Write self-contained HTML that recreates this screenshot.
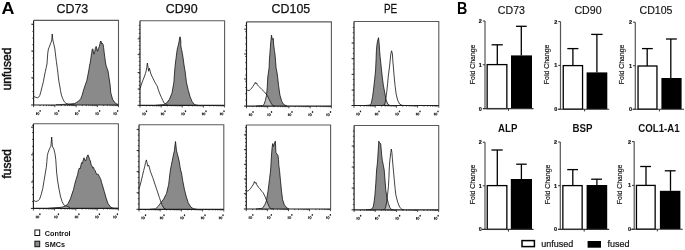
<!DOCTYPE html>
<html><head><meta charset="utf-8"><title>Figure</title>
<style>
html,body{margin:0;padding:0;background:#fff;}
body{width:685px;height:250px;overflow:hidden;}
svg{display:block;font-family:"Liberation Sans",sans-serif;filter:grayscale(1);}
</style></head>
<body>
<svg width="685" height="250" viewBox="0 0 685 250">
<rect width="685" height="250" fill="#fff"/>
<polygon points="56.0,105.0 56.0,104.8 64.0,104.4 70.0,104.0 74.4,103.6 76.6,102.4 78.9,100.9 80.8,98.6 82.0,95.6 83.1,91.8 84.2,88.0 86.9,80.3 88.7,71.0 89.7,65.0 90.4,62.0 91.0,57.2 91.6,53.6 92.2,49.4 92.8,48.8 93.4,51.8 94.0,54.2 94.6,52.4 95.4,48.2 96.2,46.4 97.0,50.0 97.6,51.2 98.2,48.8 99.4,46.4 100.0,43.4 100.6,41.0 101.2,41.6 101.8,44.0 102.4,43.4 103.0,44.0 103.6,47.6 104.2,52.4 104.8,57.2 105.4,62.0 106.2,66.0 108.0,71.0 110.0,84.0 110.8,93.0 112.7,99.6 115.4,103.3 118.2,104.6 118.2,105.0" fill="#8a8a8a" stroke="none"/>
<polygon points="33.8,105.0 33.8,96.6 35.6,97.2 37.4,97.8 38.6,97.2 39.8,95.4 41.0,91.2 42.2,86.4 43.4,81.6 44.4,76.0 45.4,71.2 46.2,67.6 47.0,64.0 47.4,58.0 47.8,53.0 48.4,49.0 49.2,47.2 50.0,45.0 51.0,42.5 51.8,40.0 52.2,34.0 52.8,40.0 53.5,43.0 54.5,47.0 55.0,50.0 55.3,53.0 55.8,57.0 56.4,61.6 57.4,68.8 57.8,72.0 58.2,76.0 59.0,82.0 59.6,85.0 60.5,90.5 61.4,95.1 62.8,98.8 64.2,101.6 66.0,103.4 68.3,104.3 71.6,104.5 74.0,104.8 74.0,105.0" fill="#fff" fill-opacity="0.42" stroke="none"/>
<polyline points="56.0,104.8 64.0,104.4 70.0,104.0 74.4,103.6 76.6,102.4 78.9,100.9 80.8,98.6 82.0,95.6 83.1,91.8 84.2,88.0 86.9,80.3 88.7,71.0 89.7,65.0 90.4,62.0 91.0,57.2 91.6,53.6 92.2,49.4 92.8,48.8 93.4,51.8 94.0,54.2 94.6,52.4 95.4,48.2 96.2,46.4 97.0,50.0 97.6,51.2 98.2,48.8 99.4,46.4 100.0,43.4 100.6,41.0 101.2,41.6 101.8,44.0 102.4,43.4 103.0,44.0 103.6,47.6 104.2,52.4 104.8,57.2 105.4,62.0 106.2,66.0 108.0,71.0 110.0,84.0 110.8,93.0 112.7,99.6 115.4,103.3 118.2,104.6" fill="none" stroke="#111" stroke-width="0.8" stroke-linejoin="round"/>
<polyline points="33.8,96.6 35.6,97.2 37.4,97.8 38.6,97.2 39.8,95.4 41.0,91.2 42.2,86.4 43.4,81.6 44.4,76.0 45.4,71.2 46.2,67.6 47.0,64.0 47.4,58.0 47.8,53.0 48.4,49.0 49.2,47.2 50.0,45.0 51.0,42.5 51.8,40.0 52.2,34.0 52.8,40.0 53.5,43.0 54.5,47.0 55.0,50.0 55.3,53.0 55.8,57.0 56.4,61.6 57.4,68.8 57.8,72.0 58.2,76.0 59.0,82.0 59.6,85.0 60.5,90.5 61.4,95.1 62.8,98.8 64.2,101.6 66.0,103.4 68.3,104.3 71.6,104.5 74.0,104.8" fill="none" stroke="#111" stroke-width="0.8" stroke-linejoin="round"/>
<path d="M33.6,20.4 H118.5 V105.0" fill="none" stroke="#5a5a5a" stroke-width="1.1"/>
<path d="M33.6,20.4 V105.0 H118.5" fill="none" stroke="#1e1e1e" stroke-width="1.15"/>
<line x1="32.4" y1="24.6" x2="33.6" y2="24.6" stroke="#222" stroke-width="0.9"/>
<line x1="32.4" y1="31.3" x2="33.6" y2="31.3" stroke="#222" stroke-width="0.9"/>
<line x1="32.4" y1="38.0" x2="33.6" y2="38.0" stroke="#222" stroke-width="0.9"/>
<line x1="32.4" y1="44.7" x2="33.6" y2="44.7" stroke="#222" stroke-width="0.9"/>
<line x1="32.4" y1="51.4" x2="33.6" y2="51.4" stroke="#222" stroke-width="0.9"/>
<line x1="32.4" y1="58.1" x2="33.6" y2="58.1" stroke="#222" stroke-width="0.9"/>
<line x1="32.4" y1="64.8" x2="33.6" y2="64.8" stroke="#222" stroke-width="0.9"/>
<line x1="32.4" y1="71.5" x2="33.6" y2="71.5" stroke="#222" stroke-width="0.9"/>
<line x1="32.4" y1="78.2" x2="33.6" y2="78.2" stroke="#222" stroke-width="0.9"/>
<line x1="32.4" y1="84.9" x2="33.6" y2="84.9" stroke="#222" stroke-width="0.9"/>
<line x1="32.4" y1="91.6" x2="33.6" y2="91.6" stroke="#222" stroke-width="0.9"/>
<line x1="32.4" y1="98.3" x2="33.6" y2="98.3" stroke="#222" stroke-width="0.9"/>
<line x1="31.2" y1="24.2" x2="33.6" y2="24.2" stroke="#222" stroke-width="0.9"/>
<line x1="31.2" y1="51.0" x2="33.6" y2="51.0" stroke="#222" stroke-width="0.9"/>
<line x1="31.2" y1="77.8" x2="33.6" y2="77.8" stroke="#222" stroke-width="0.9"/>
<line x1="33.6" y1="105.0" x2="33.6" y2="107.2" stroke="#222" stroke-width="0.8"/>
<line x1="40.0" y1="105.0" x2="40.0" y2="106.1" stroke="#222" stroke-width="0.8"/>
<line x1="43.7" y1="105.0" x2="43.7" y2="106.1" stroke="#222" stroke-width="0.8"/>
<line x1="46.4" y1="105.0" x2="46.4" y2="106.1" stroke="#222" stroke-width="0.8"/>
<line x1="48.4" y1="105.0" x2="48.4" y2="106.1" stroke="#222" stroke-width="0.8"/>
<line x1="50.1" y1="105.0" x2="50.1" y2="106.1" stroke="#222" stroke-width="0.8"/>
<line x1="51.5" y1="105.0" x2="51.5" y2="106.1" stroke="#222" stroke-width="0.8"/>
<line x1="52.8" y1="105.0" x2="52.8" y2="106.1" stroke="#222" stroke-width="0.8"/>
<line x1="53.9" y1="105.0" x2="53.9" y2="106.1" stroke="#222" stroke-width="0.8"/>
<line x1="54.8" y1="105.0" x2="54.8" y2="107.2" stroke="#222" stroke-width="0.8"/>
<line x1="61.2" y1="105.0" x2="61.2" y2="106.1" stroke="#222" stroke-width="0.8"/>
<line x1="65.0" y1="105.0" x2="65.0" y2="106.1" stroke="#222" stroke-width="0.8"/>
<line x1="67.6" y1="105.0" x2="67.6" y2="106.1" stroke="#222" stroke-width="0.8"/>
<line x1="69.7" y1="105.0" x2="69.7" y2="106.1" stroke="#222" stroke-width="0.8"/>
<line x1="71.3" y1="105.0" x2="71.3" y2="106.1" stroke="#222" stroke-width="0.8"/>
<line x1="72.8" y1="105.0" x2="72.8" y2="106.1" stroke="#222" stroke-width="0.8"/>
<line x1="74.0" y1="105.0" x2="74.0" y2="106.1" stroke="#222" stroke-width="0.8"/>
<line x1="75.1" y1="105.0" x2="75.1" y2="106.1" stroke="#222" stroke-width="0.8"/>
<line x1="76.1" y1="105.0" x2="76.1" y2="107.2" stroke="#222" stroke-width="0.8"/>
<line x1="82.4" y1="105.0" x2="82.4" y2="106.1" stroke="#222" stroke-width="0.8"/>
<line x1="86.2" y1="105.0" x2="86.2" y2="106.1" stroke="#222" stroke-width="0.8"/>
<line x1="88.8" y1="105.0" x2="88.8" y2="106.1" stroke="#222" stroke-width="0.8"/>
<line x1="90.9" y1="105.0" x2="90.9" y2="106.1" stroke="#222" stroke-width="0.8"/>
<line x1="92.6" y1="105.0" x2="92.6" y2="106.1" stroke="#222" stroke-width="0.8"/>
<line x1="94.0" y1="105.0" x2="94.0" y2="106.1" stroke="#222" stroke-width="0.8"/>
<line x1="95.2" y1="105.0" x2="95.2" y2="106.1" stroke="#222" stroke-width="0.8"/>
<line x1="96.3" y1="105.0" x2="96.3" y2="106.1" stroke="#222" stroke-width="0.8"/>
<line x1="97.3" y1="105.0" x2="97.3" y2="107.2" stroke="#222" stroke-width="0.8"/>
<line x1="103.7" y1="105.0" x2="103.7" y2="106.1" stroke="#222" stroke-width="0.8"/>
<line x1="107.4" y1="105.0" x2="107.4" y2="106.1" stroke="#222" stroke-width="0.8"/>
<line x1="110.1" y1="105.0" x2="110.1" y2="106.1" stroke="#222" stroke-width="0.8"/>
<line x1="112.1" y1="105.0" x2="112.1" y2="106.1" stroke="#222" stroke-width="0.8"/>
<line x1="113.8" y1="105.0" x2="113.8" y2="106.1" stroke="#222" stroke-width="0.8"/>
<line x1="115.2" y1="105.0" x2="115.2" y2="106.1" stroke="#222" stroke-width="0.8"/>
<line x1="116.4" y1="105.0" x2="116.4" y2="106.1" stroke="#222" stroke-width="0.8"/>
<line x1="117.5" y1="105.0" x2="117.5" y2="106.1" stroke="#222" stroke-width="0.8"/>
<line x1="118.5" y1="105.0" x2="118.5" y2="107.2" stroke="#222" stroke-width="0.8"/>
<line x1="31.1" y1="105.0" x2="33.6" y2="105.0" stroke="#222" stroke-width="1"/>
<line x1="36.5" y1="112.3" x2="36.5" y2="114.9" stroke="#1a1a1a" stroke-width="0.9"/>
<ellipse cx="38.3" cy="113.6" rx="0.8" ry="1.15" fill="none" stroke="#1a1a1a" stroke-width="0.8"/>
<ellipse cx="40.1" cy="110.9" rx="0.75" ry="0.95" fill="#222"/>
<line x1="55.0" y1="112.3" x2="55.0" y2="114.9" stroke="#1a1a1a" stroke-width="0.9"/>
<ellipse cx="56.8" cy="113.6" rx="0.8" ry="1.15" fill="none" stroke="#1a1a1a" stroke-width="0.8"/>
<ellipse cx="58.6" cy="110.9" rx="0.75" ry="0.95" fill="#222"/>
<line x1="75.5" y1="112.3" x2="75.5" y2="114.9" stroke="#1a1a1a" stroke-width="0.9"/>
<ellipse cx="77.3" cy="113.6" rx="0.8" ry="1.15" fill="none" stroke="#1a1a1a" stroke-width="0.8"/>
<ellipse cx="79.1" cy="110.9" rx="0.75" ry="0.95" fill="#222"/>
<line x1="96.0" y1="112.3" x2="96.0" y2="114.9" stroke="#1a1a1a" stroke-width="0.9"/>
<ellipse cx="97.8" cy="113.6" rx="0.8" ry="1.15" fill="none" stroke="#1a1a1a" stroke-width="0.8"/>
<ellipse cx="99.6" cy="110.9" rx="0.75" ry="0.95" fill="#222"/>
<line x1="114.0" y1="112.3" x2="114.0" y2="114.9" stroke="#1a1a1a" stroke-width="0.9"/>
<ellipse cx="115.8" cy="113.6" rx="0.8" ry="1.15" fill="none" stroke="#1a1a1a" stroke-width="0.8"/>
<ellipse cx="117.6" cy="110.9" rx="0.75" ry="0.95" fill="#222"/>
<polygon points="156.0,105.3 156.0,105.3 160.0,105.0 163.8,104.6 166.5,103.1 169.3,99.6 172.0,93.1 173.9,82.1 174.6,72.0 175.2,65.0 176.0,58.6 176.8,52.2 177.6,47.4 178.4,45.0 179.2,41.0 179.6,37.5 180.2,36.8 180.8,41.0 180.8,45.8 181.6,49.8 182.4,53.8 183.2,58.6 184.0,65.0 185.2,72.0 186.4,82.1 188.3,90.4 190.1,96.8 192.0,101.4 194.7,104.8 198.0,105.3 198.0,105.3" fill="#8a8a8a" stroke="none"/>
<polygon points="140.0,105.3 140.0,88.5 140.4,88.0 141.0,85.6 142.2,82.0 143.4,79.0 144.6,76.0 145.4,73.6 146.4,70.0 147.4,63.0 148.0,67.0 148.6,71.2 149.4,68.2 150.6,73.0 151.8,76.0 153.0,78.4 154.2,80.8 155.0,82.5 156.3,84.6 157.3,86.2 158.3,89.8 159.9,94.0 161.5,97.6 163.0,100.8 164.0,102.8 165.1,103.9 166.5,104.8 168.0,105.3 168.0,105.3" fill="#fff" fill-opacity="0.42" stroke="none"/>
<polyline points="156.0,105.3 160.0,105.0 163.8,104.6 166.5,103.1 169.3,99.6 172.0,93.1 173.9,82.1 174.6,72.0 175.2,65.0 176.0,58.6 176.8,52.2 177.6,47.4 178.4,45.0 179.2,41.0 179.6,37.5 180.2,36.8 180.8,41.0 180.8,45.8 181.6,49.8 182.4,53.8 183.2,58.6 184.0,65.0 185.2,72.0 186.4,82.1 188.3,90.4 190.1,96.8 192.0,101.4 194.7,104.8 198.0,105.3" fill="none" stroke="#111" stroke-width="0.8" stroke-linejoin="round"/>
<polyline points="140.0,88.5 140.4,88.0 141.0,85.6 142.2,82.0 143.4,79.0 144.6,76.0 145.4,73.6 146.4,70.0 147.4,63.0 148.0,67.0 148.6,71.2 149.4,68.2 150.6,73.0 151.8,76.0 153.0,78.4 154.2,80.8 155.0,82.5 156.3,84.6 157.3,86.2 158.3,89.8 159.9,94.0 161.5,97.6 163.0,100.8 164.0,102.8 165.1,103.9 166.5,104.8 168.0,105.3" fill="none" stroke="#111" stroke-width="0.8" stroke-linejoin="round"/>
<path d="M140.0,20.8 H224.6 V105.3" fill="none" stroke="#5a5a5a" stroke-width="1.1"/>
<path d="M140.0,20.8 V105.3 H224.6" fill="none" stroke="#1e1e1e" stroke-width="1.15"/>
<line x1="138.8" y1="25.3" x2="140.0" y2="25.3" stroke="#222" stroke-width="0.9"/>
<line x1="138.8" y1="29.3" x2="140.0" y2="29.3" stroke="#222" stroke-width="0.9"/>
<line x1="138.8" y1="33.3" x2="140.0" y2="33.3" stroke="#222" stroke-width="0.9"/>
<line x1="138.8" y1="37.3" x2="140.0" y2="37.3" stroke="#222" stroke-width="0.9"/>
<line x1="138.8" y1="41.3" x2="140.0" y2="41.3" stroke="#222" stroke-width="0.9"/>
<line x1="138.8" y1="45.3" x2="140.0" y2="45.3" stroke="#222" stroke-width="0.9"/>
<line x1="138.8" y1="49.3" x2="140.0" y2="49.3" stroke="#222" stroke-width="0.9"/>
<line x1="138.8" y1="53.3" x2="140.0" y2="53.3" stroke="#222" stroke-width="0.9"/>
<line x1="138.8" y1="57.3" x2="140.0" y2="57.3" stroke="#222" stroke-width="0.9"/>
<line x1="138.8" y1="61.3" x2="140.0" y2="61.3" stroke="#222" stroke-width="0.9"/>
<line x1="138.8" y1="65.3" x2="140.0" y2="65.3" stroke="#222" stroke-width="0.9"/>
<line x1="138.8" y1="69.3" x2="140.0" y2="69.3" stroke="#222" stroke-width="0.9"/>
<line x1="138.8" y1="73.3" x2="140.0" y2="73.3" stroke="#222" stroke-width="0.9"/>
<line x1="138.8" y1="77.3" x2="140.0" y2="77.3" stroke="#222" stroke-width="0.9"/>
<line x1="138.8" y1="81.3" x2="140.0" y2="81.3" stroke="#222" stroke-width="0.9"/>
<line x1="138.8" y1="85.3" x2="140.0" y2="85.3" stroke="#222" stroke-width="0.9"/>
<line x1="138.8" y1="89.3" x2="140.0" y2="89.3" stroke="#222" stroke-width="0.9"/>
<line x1="138.8" y1="93.3" x2="140.0" y2="93.3" stroke="#222" stroke-width="0.9"/>
<line x1="138.8" y1="97.3" x2="140.0" y2="97.3" stroke="#222" stroke-width="0.9"/>
<line x1="138.8" y1="101.3" x2="140.0" y2="101.3" stroke="#222" stroke-width="0.9"/>
<line x1="137.6" y1="38.8" x2="140.0" y2="38.8" stroke="#222" stroke-width="0.9"/>
<line x1="137.6" y1="54.6" x2="140.0" y2="54.6" stroke="#222" stroke-width="0.9"/>
<line x1="137.6" y1="72.5" x2="140.0" y2="72.5" stroke="#222" stroke-width="0.9"/>
<line x1="137.6" y1="89.0" x2="140.0" y2="89.0" stroke="#222" stroke-width="0.9"/>
<line x1="140.0" y1="105.3" x2="140.0" y2="107.5" stroke="#222" stroke-width="0.8"/>
<line x1="146.4" y1="105.3" x2="146.4" y2="106.4" stroke="#222" stroke-width="0.8"/>
<line x1="150.1" y1="105.3" x2="150.1" y2="106.4" stroke="#222" stroke-width="0.8"/>
<line x1="152.7" y1="105.3" x2="152.7" y2="106.4" stroke="#222" stroke-width="0.8"/>
<line x1="154.8" y1="105.3" x2="154.8" y2="106.4" stroke="#222" stroke-width="0.8"/>
<line x1="156.5" y1="105.3" x2="156.5" y2="106.4" stroke="#222" stroke-width="0.8"/>
<line x1="157.9" y1="105.3" x2="157.9" y2="106.4" stroke="#222" stroke-width="0.8"/>
<line x1="159.1" y1="105.3" x2="159.1" y2="106.4" stroke="#222" stroke-width="0.8"/>
<line x1="160.2" y1="105.3" x2="160.2" y2="106.4" stroke="#222" stroke-width="0.8"/>
<line x1="161.2" y1="105.3" x2="161.2" y2="107.5" stroke="#222" stroke-width="0.8"/>
<line x1="167.5" y1="105.3" x2="167.5" y2="106.4" stroke="#222" stroke-width="0.8"/>
<line x1="171.2" y1="105.3" x2="171.2" y2="106.4" stroke="#222" stroke-width="0.8"/>
<line x1="173.9" y1="105.3" x2="173.9" y2="106.4" stroke="#222" stroke-width="0.8"/>
<line x1="175.9" y1="105.3" x2="175.9" y2="106.4" stroke="#222" stroke-width="0.8"/>
<line x1="177.6" y1="105.3" x2="177.6" y2="106.4" stroke="#222" stroke-width="0.8"/>
<line x1="179.0" y1="105.3" x2="179.0" y2="106.4" stroke="#222" stroke-width="0.8"/>
<line x1="180.3" y1="105.3" x2="180.3" y2="106.4" stroke="#222" stroke-width="0.8"/>
<line x1="181.3" y1="105.3" x2="181.3" y2="106.4" stroke="#222" stroke-width="0.8"/>
<line x1="182.3" y1="105.3" x2="182.3" y2="107.5" stroke="#222" stroke-width="0.8"/>
<line x1="188.7" y1="105.3" x2="188.7" y2="106.4" stroke="#222" stroke-width="0.8"/>
<line x1="192.4" y1="105.3" x2="192.4" y2="106.4" stroke="#222" stroke-width="0.8"/>
<line x1="195.0" y1="105.3" x2="195.0" y2="106.4" stroke="#222" stroke-width="0.8"/>
<line x1="197.1" y1="105.3" x2="197.1" y2="106.4" stroke="#222" stroke-width="0.8"/>
<line x1="198.8" y1="105.3" x2="198.8" y2="106.4" stroke="#222" stroke-width="0.8"/>
<line x1="200.2" y1="105.3" x2="200.2" y2="106.4" stroke="#222" stroke-width="0.8"/>
<line x1="201.4" y1="105.3" x2="201.4" y2="106.4" stroke="#222" stroke-width="0.8"/>
<line x1="202.5" y1="105.3" x2="202.5" y2="106.4" stroke="#222" stroke-width="0.8"/>
<line x1="203.4" y1="105.3" x2="203.4" y2="107.5" stroke="#222" stroke-width="0.8"/>
<line x1="209.8" y1="105.3" x2="209.8" y2="106.4" stroke="#222" stroke-width="0.8"/>
<line x1="213.5" y1="105.3" x2="213.5" y2="106.4" stroke="#222" stroke-width="0.8"/>
<line x1="216.2" y1="105.3" x2="216.2" y2="106.4" stroke="#222" stroke-width="0.8"/>
<line x1="218.2" y1="105.3" x2="218.2" y2="106.4" stroke="#222" stroke-width="0.8"/>
<line x1="219.9" y1="105.3" x2="219.9" y2="106.4" stroke="#222" stroke-width="0.8"/>
<line x1="221.3" y1="105.3" x2="221.3" y2="106.4" stroke="#222" stroke-width="0.8"/>
<line x1="222.6" y1="105.3" x2="222.6" y2="106.4" stroke="#222" stroke-width="0.8"/>
<line x1="223.6" y1="105.3" x2="223.6" y2="106.4" stroke="#222" stroke-width="0.8"/>
<line x1="224.6" y1="105.3" x2="224.6" y2="107.5" stroke="#222" stroke-width="0.8"/>
<line x1="137.5" y1="105.3" x2="140.0" y2="105.3" stroke="#222" stroke-width="1"/>
<line x1="142.9" y1="112.6" x2="142.9" y2="115.2" stroke="#1a1a1a" stroke-width="0.9"/>
<ellipse cx="144.7" cy="113.9" rx="0.8" ry="1.15" fill="none" stroke="#1a1a1a" stroke-width="0.8"/>
<ellipse cx="146.5" cy="111.2" rx="0.75" ry="0.95" fill="#222"/>
<line x1="161.4" y1="112.6" x2="161.4" y2="115.2" stroke="#1a1a1a" stroke-width="0.9"/>
<ellipse cx="163.2" cy="113.9" rx="0.8" ry="1.15" fill="none" stroke="#1a1a1a" stroke-width="0.8"/>
<ellipse cx="165.0" cy="111.2" rx="0.75" ry="0.95" fill="#222"/>
<line x1="181.9" y1="112.6" x2="181.9" y2="115.2" stroke="#1a1a1a" stroke-width="0.9"/>
<ellipse cx="183.7" cy="113.9" rx="0.8" ry="1.15" fill="none" stroke="#1a1a1a" stroke-width="0.8"/>
<ellipse cx="185.5" cy="111.2" rx="0.75" ry="0.95" fill="#222"/>
<line x1="202.4" y1="112.6" x2="202.4" y2="115.2" stroke="#1a1a1a" stroke-width="0.9"/>
<ellipse cx="204.2" cy="113.9" rx="0.8" ry="1.15" fill="none" stroke="#1a1a1a" stroke-width="0.8"/>
<ellipse cx="206.0" cy="111.2" rx="0.75" ry="0.95" fill="#222"/>
<line x1="220.4" y1="112.6" x2="220.4" y2="115.2" stroke="#1a1a1a" stroke-width="0.9"/>
<ellipse cx="222.2" cy="113.9" rx="0.8" ry="1.15" fill="none" stroke="#1a1a1a" stroke-width="0.8"/>
<ellipse cx="224.0" cy="111.2" rx="0.75" ry="0.95" fill="#222"/>
<polygon points="256.0,106.1 256.0,106.1 262.5,105.6 264.0,104.6 265.3,100.6 266.5,95.5 267.2,87.8 267.8,77.0 268.5,72.0 269.1,68.0 269.4,60.0 269.9,53.6 270.4,47.2 270.9,40.8 271.5,35.2 272.3,39.5 273.3,38.4 273.6,44.0 274.4,50.4 274.9,53.6 275.5,60.0 276.1,68.0 276.9,72.0 277.5,76.0 278.6,85.8 279.9,95.0 281.8,101.4 283.6,104.4 287.0,106.1 287.0,106.1" fill="#8a8a8a" stroke="none"/>
<polygon points="246.5,106.1 246.5,90.0 247.2,90.1 249.1,90.7 250.4,89.5 251.7,88.2 253.0,86.3 254.3,84.3 255.3,82.4 255.9,83.7 256.6,83.0 257.5,85.0 259.4,86.9 261.9,89.5 264.5,92.0 267.1,95.2 269.0,99.1 270.9,102.9 272.8,105.6 274.5,106.1 274.5,106.1" fill="#fff" fill-opacity="0.42" stroke="none"/>
<polyline points="256.0,106.1 262.5,105.6 264.0,104.6 265.3,100.6 266.5,95.5 267.2,87.8 267.8,77.0 268.5,72.0 269.1,68.0 269.4,60.0 269.9,53.6 270.4,47.2 270.9,40.8 271.5,35.2 272.3,39.5 273.3,38.4 273.6,44.0 274.4,50.4 274.9,53.6 275.5,60.0 276.1,68.0 276.9,72.0 277.5,76.0 278.6,85.8 279.9,95.0 281.8,101.4 283.6,104.4 287.0,106.1" fill="none" stroke="#111" stroke-width="0.8" stroke-linejoin="round"/>
<polyline points="246.5,90.0 247.2,90.1 249.1,90.7 250.4,89.5 251.7,88.2 253.0,86.3 254.3,84.3 255.3,82.4 255.9,83.7 256.6,83.0 257.5,85.0 259.4,86.9 261.9,89.5 264.5,92.0 267.1,95.2 269.0,99.1 270.9,102.9 272.8,105.6 274.5,106.1" fill="none" stroke="#111" stroke-width="0.8" stroke-linejoin="round"/>
<path d="M246.5,21.9 H331.4 V106.1" fill="none" stroke="#5a5a5a" stroke-width="1.1"/>
<path d="M246.5,21.9 V106.1 H331.4" fill="none" stroke="#1e1e1e" stroke-width="1.15"/>
<line x1="245.3" y1="25.5" x2="246.5" y2="25.5" stroke="#222" stroke-width="0.9"/>
<line x1="245.3" y1="31.7" x2="246.5" y2="31.7" stroke="#222" stroke-width="0.9"/>
<line x1="245.3" y1="37.9" x2="246.5" y2="37.9" stroke="#222" stroke-width="0.9"/>
<line x1="245.3" y1="44.1" x2="246.5" y2="44.1" stroke="#222" stroke-width="0.9"/>
<line x1="245.3" y1="50.3" x2="246.5" y2="50.3" stroke="#222" stroke-width="0.9"/>
<line x1="245.3" y1="56.5" x2="246.5" y2="56.5" stroke="#222" stroke-width="0.9"/>
<line x1="245.3" y1="62.7" x2="246.5" y2="62.7" stroke="#222" stroke-width="0.9"/>
<line x1="245.3" y1="68.9" x2="246.5" y2="68.9" stroke="#222" stroke-width="0.9"/>
<line x1="245.3" y1="75.1" x2="246.5" y2="75.1" stroke="#222" stroke-width="0.9"/>
<line x1="245.3" y1="81.3" x2="246.5" y2="81.3" stroke="#222" stroke-width="0.9"/>
<line x1="245.3" y1="87.5" x2="246.5" y2="87.5" stroke="#222" stroke-width="0.9"/>
<line x1="245.3" y1="93.7" x2="246.5" y2="93.7" stroke="#222" stroke-width="0.9"/>
<line x1="245.3" y1="99.9" x2="246.5" y2="99.9" stroke="#222" stroke-width="0.9"/>
<line x1="244.1" y1="29.2" x2="246.5" y2="29.2" stroke="#222" stroke-width="0.9"/>
<line x1="244.1" y1="54.0" x2="246.5" y2="54.0" stroke="#222" stroke-width="0.9"/>
<line x1="244.1" y1="79.0" x2="246.5" y2="79.0" stroke="#222" stroke-width="0.9"/>
<line x1="246.5" y1="106.1" x2="246.5" y2="108.3" stroke="#222" stroke-width="0.8"/>
<line x1="252.9" y1="106.1" x2="252.9" y2="107.2" stroke="#222" stroke-width="0.8"/>
<line x1="256.6" y1="106.1" x2="256.6" y2="107.2" stroke="#222" stroke-width="0.8"/>
<line x1="259.3" y1="106.1" x2="259.3" y2="107.2" stroke="#222" stroke-width="0.8"/>
<line x1="261.3" y1="106.1" x2="261.3" y2="107.2" stroke="#222" stroke-width="0.8"/>
<line x1="263.0" y1="106.1" x2="263.0" y2="107.2" stroke="#222" stroke-width="0.8"/>
<line x1="264.4" y1="106.1" x2="264.4" y2="107.2" stroke="#222" stroke-width="0.8"/>
<line x1="265.7" y1="106.1" x2="265.7" y2="107.2" stroke="#222" stroke-width="0.8"/>
<line x1="266.8" y1="106.1" x2="266.8" y2="107.2" stroke="#222" stroke-width="0.8"/>
<line x1="267.7" y1="106.1" x2="267.7" y2="108.3" stroke="#222" stroke-width="0.8"/>
<line x1="274.1" y1="106.1" x2="274.1" y2="107.2" stroke="#222" stroke-width="0.8"/>
<line x1="277.9" y1="106.1" x2="277.9" y2="107.2" stroke="#222" stroke-width="0.8"/>
<line x1="280.5" y1="106.1" x2="280.5" y2="107.2" stroke="#222" stroke-width="0.8"/>
<line x1="282.6" y1="106.1" x2="282.6" y2="107.2" stroke="#222" stroke-width="0.8"/>
<line x1="284.2" y1="106.1" x2="284.2" y2="107.2" stroke="#222" stroke-width="0.8"/>
<line x1="285.7" y1="106.1" x2="285.7" y2="107.2" stroke="#222" stroke-width="0.8"/>
<line x1="286.9" y1="106.1" x2="286.9" y2="107.2" stroke="#222" stroke-width="0.8"/>
<line x1="288.0" y1="106.1" x2="288.0" y2="107.2" stroke="#222" stroke-width="0.8"/>
<line x1="288.9" y1="106.1" x2="288.9" y2="108.3" stroke="#222" stroke-width="0.8"/>
<line x1="295.3" y1="106.1" x2="295.3" y2="107.2" stroke="#222" stroke-width="0.8"/>
<line x1="299.1" y1="106.1" x2="299.1" y2="107.2" stroke="#222" stroke-width="0.8"/>
<line x1="301.7" y1="106.1" x2="301.7" y2="107.2" stroke="#222" stroke-width="0.8"/>
<line x1="303.8" y1="106.1" x2="303.8" y2="107.2" stroke="#222" stroke-width="0.8"/>
<line x1="305.5" y1="106.1" x2="305.5" y2="107.2" stroke="#222" stroke-width="0.8"/>
<line x1="306.9" y1="106.1" x2="306.9" y2="107.2" stroke="#222" stroke-width="0.8"/>
<line x1="308.1" y1="106.1" x2="308.1" y2="107.2" stroke="#222" stroke-width="0.8"/>
<line x1="309.2" y1="106.1" x2="309.2" y2="107.2" stroke="#222" stroke-width="0.8"/>
<line x1="310.2" y1="106.1" x2="310.2" y2="108.3" stroke="#222" stroke-width="0.8"/>
<line x1="316.6" y1="106.1" x2="316.6" y2="107.2" stroke="#222" stroke-width="0.8"/>
<line x1="320.3" y1="106.1" x2="320.3" y2="107.2" stroke="#222" stroke-width="0.8"/>
<line x1="323.0" y1="106.1" x2="323.0" y2="107.2" stroke="#222" stroke-width="0.8"/>
<line x1="325.0" y1="106.1" x2="325.0" y2="107.2" stroke="#222" stroke-width="0.8"/>
<line x1="326.7" y1="106.1" x2="326.7" y2="107.2" stroke="#222" stroke-width="0.8"/>
<line x1="328.1" y1="106.1" x2="328.1" y2="107.2" stroke="#222" stroke-width="0.8"/>
<line x1="329.3" y1="106.1" x2="329.3" y2="107.2" stroke="#222" stroke-width="0.8"/>
<line x1="330.4" y1="106.1" x2="330.4" y2="107.2" stroke="#222" stroke-width="0.8"/>
<line x1="331.4" y1="106.1" x2="331.4" y2="108.3" stroke="#222" stroke-width="0.8"/>
<line x1="244.0" y1="106.1" x2="246.5" y2="106.1" stroke="#222" stroke-width="1"/>
<line x1="249.4" y1="113.4" x2="249.4" y2="116.0" stroke="#1a1a1a" stroke-width="0.9"/>
<ellipse cx="251.2" cy="114.7" rx="0.8" ry="1.15" fill="none" stroke="#1a1a1a" stroke-width="0.8"/>
<ellipse cx="253.0" cy="112.0" rx="0.75" ry="0.95" fill="#222"/>
<line x1="267.9" y1="113.4" x2="267.9" y2="116.0" stroke="#1a1a1a" stroke-width="0.9"/>
<ellipse cx="269.7" cy="114.7" rx="0.8" ry="1.15" fill="none" stroke="#1a1a1a" stroke-width="0.8"/>
<ellipse cx="271.5" cy="112.0" rx="0.75" ry="0.95" fill="#222"/>
<line x1="288.4" y1="113.4" x2="288.4" y2="116.0" stroke="#1a1a1a" stroke-width="0.9"/>
<ellipse cx="290.2" cy="114.7" rx="0.8" ry="1.15" fill="none" stroke="#1a1a1a" stroke-width="0.8"/>
<ellipse cx="292.0" cy="112.0" rx="0.75" ry="0.95" fill="#222"/>
<line x1="308.9" y1="113.4" x2="308.9" y2="116.0" stroke="#1a1a1a" stroke-width="0.9"/>
<ellipse cx="310.7" cy="114.7" rx="0.8" ry="1.15" fill="none" stroke="#1a1a1a" stroke-width="0.8"/>
<ellipse cx="312.5" cy="112.0" rx="0.75" ry="0.95" fill="#222"/>
<line x1="326.9" y1="113.4" x2="326.9" y2="116.0" stroke="#1a1a1a" stroke-width="0.9"/>
<ellipse cx="328.7" cy="114.7" rx="0.8" ry="1.15" fill="none" stroke="#1a1a1a" stroke-width="0.8"/>
<ellipse cx="330.5" cy="112.0" rx="0.75" ry="0.95" fill="#222"/>
<polygon points="365.0,105.5 365.0,105.5 369.5,105.2 371.3,103.3 372.6,96.8 373.7,88.0 374.6,80.0 375.6,70.0 376.1,58.8 376.4,50.8 376.9,45.2 377.5,41.2 378.5,37.7 379.1,42.8 379.6,50.8 380.1,56.4 380.7,62.0 381.5,70.0 382.4,78.0 383.3,85.0 384.8,93.1 386.0,99.6 387.9,104.3 390.0,105.5 390.0,105.5" fill="#8a8a8a" stroke="none"/>
<polygon points="381.5,105.5 381.5,105.5 384.5,105.0 385.3,101.9 386.0,97.4 386.8,91.3 387.6,83.7 388.3,76.1 389.1,70.0 389.6,66.0 390.0,62.0 390.8,54.0 391.6,50.8 392.4,54.0 392.9,62.0 393.3,66.0 393.6,70.0 394.4,79.1 395.2,86.7 396.2,94.3 397.7,100.4 399.7,104.2 402.0,105.3 404.0,105.5 404.0,105.5" fill="#fff" fill-opacity="0.42" stroke="none"/>
<polyline points="365.0,105.5 369.5,105.2 371.3,103.3 372.6,96.8 373.7,88.0 374.6,80.0 375.6,70.0 376.1,58.8 376.4,50.8 376.9,45.2 377.5,41.2 378.5,37.7 379.1,42.8 379.6,50.8 380.1,56.4 380.7,62.0 381.5,70.0 382.4,78.0 383.3,85.0 384.8,93.1 386.0,99.6 387.9,104.3 390.0,105.5" fill="none" stroke="#111" stroke-width="0.8" stroke-linejoin="round"/>
<polyline points="381.5,105.5 384.5,105.0 385.3,101.9 386.0,97.4 386.8,91.3 387.6,83.7 388.3,76.1 389.1,70.0 389.6,66.0 390.0,62.0 390.8,54.0 391.6,50.8 392.4,54.0 392.9,62.0 393.3,66.0 393.6,70.0 394.4,79.1 395.2,86.7 396.2,94.3 397.7,100.4 399.7,104.2 402.0,105.3 404.0,105.5" fill="none" stroke="#111" stroke-width="0.8" stroke-linejoin="round"/>
<path d="M354.0,21.5 H438.8 V105.5" fill="none" stroke="#5a5a5a" stroke-width="1.1"/>
<path d="M354.0,21.5 V105.5 H438.8" fill="none" stroke="#1e1e1e" stroke-width="1.15"/>
<line x1="352.8" y1="27.5" x2="354.0" y2="27.5" stroke="#222" stroke-width="0.9"/>
<line x1="352.8" y1="32.7" x2="354.0" y2="32.7" stroke="#222" stroke-width="0.9"/>
<line x1="352.8" y1="37.9" x2="354.0" y2="37.9" stroke="#222" stroke-width="0.9"/>
<line x1="352.8" y1="43.1" x2="354.0" y2="43.1" stroke="#222" stroke-width="0.9"/>
<line x1="352.8" y1="48.3" x2="354.0" y2="48.3" stroke="#222" stroke-width="0.9"/>
<line x1="352.8" y1="53.5" x2="354.0" y2="53.5" stroke="#222" stroke-width="0.9"/>
<line x1="352.8" y1="58.7" x2="354.0" y2="58.7" stroke="#222" stroke-width="0.9"/>
<line x1="352.8" y1="63.9" x2="354.0" y2="63.9" stroke="#222" stroke-width="0.9"/>
<line x1="352.8" y1="69.1" x2="354.0" y2="69.1" stroke="#222" stroke-width="0.9"/>
<line x1="352.8" y1="74.3" x2="354.0" y2="74.3" stroke="#222" stroke-width="0.9"/>
<line x1="352.8" y1="79.5" x2="354.0" y2="79.5" stroke="#222" stroke-width="0.9"/>
<line x1="352.8" y1="84.7" x2="354.0" y2="84.7" stroke="#222" stroke-width="0.9"/>
<line x1="352.8" y1="89.9" x2="354.0" y2="89.9" stroke="#222" stroke-width="0.9"/>
<line x1="352.8" y1="95.1" x2="354.0" y2="95.1" stroke="#222" stroke-width="0.9"/>
<line x1="352.8" y1="100.3" x2="354.0" y2="100.3" stroke="#222" stroke-width="0.9"/>
<line x1="351.6" y1="43.0" x2="354.0" y2="43.0" stroke="#222" stroke-width="0.9"/>
<line x1="351.6" y1="58.7" x2="354.0" y2="58.7" stroke="#222" stroke-width="0.9"/>
<line x1="351.6" y1="74.4" x2="354.0" y2="74.4" stroke="#222" stroke-width="0.9"/>
<line x1="351.6" y1="90.1" x2="354.0" y2="90.1" stroke="#222" stroke-width="0.9"/>
<line x1="354.0" y1="105.5" x2="354.0" y2="107.7" stroke="#222" stroke-width="0.8"/>
<line x1="360.4" y1="105.5" x2="360.4" y2="106.6" stroke="#222" stroke-width="0.8"/>
<line x1="364.1" y1="105.5" x2="364.1" y2="106.6" stroke="#222" stroke-width="0.8"/>
<line x1="366.8" y1="105.5" x2="366.8" y2="106.6" stroke="#222" stroke-width="0.8"/>
<line x1="368.8" y1="105.5" x2="368.8" y2="106.6" stroke="#222" stroke-width="0.8"/>
<line x1="370.5" y1="105.5" x2="370.5" y2="106.6" stroke="#222" stroke-width="0.8"/>
<line x1="371.9" y1="105.5" x2="371.9" y2="106.6" stroke="#222" stroke-width="0.8"/>
<line x1="373.1" y1="105.5" x2="373.1" y2="106.6" stroke="#222" stroke-width="0.8"/>
<line x1="374.2" y1="105.5" x2="374.2" y2="106.6" stroke="#222" stroke-width="0.8"/>
<line x1="375.2" y1="105.5" x2="375.2" y2="107.7" stroke="#222" stroke-width="0.8"/>
<line x1="381.6" y1="105.5" x2="381.6" y2="106.6" stroke="#222" stroke-width="0.8"/>
<line x1="385.3" y1="105.5" x2="385.3" y2="106.6" stroke="#222" stroke-width="0.8"/>
<line x1="388.0" y1="105.5" x2="388.0" y2="106.6" stroke="#222" stroke-width="0.8"/>
<line x1="390.0" y1="105.5" x2="390.0" y2="106.6" stroke="#222" stroke-width="0.8"/>
<line x1="391.7" y1="105.5" x2="391.7" y2="106.6" stroke="#222" stroke-width="0.8"/>
<line x1="393.1" y1="105.5" x2="393.1" y2="106.6" stroke="#222" stroke-width="0.8"/>
<line x1="394.3" y1="105.5" x2="394.3" y2="106.6" stroke="#222" stroke-width="0.8"/>
<line x1="395.4" y1="105.5" x2="395.4" y2="106.6" stroke="#222" stroke-width="0.8"/>
<line x1="396.4" y1="105.5" x2="396.4" y2="107.7" stroke="#222" stroke-width="0.8"/>
<line x1="402.8" y1="105.5" x2="402.8" y2="106.6" stroke="#222" stroke-width="0.8"/>
<line x1="406.5" y1="105.5" x2="406.5" y2="106.6" stroke="#222" stroke-width="0.8"/>
<line x1="409.2" y1="105.5" x2="409.2" y2="106.6" stroke="#222" stroke-width="0.8"/>
<line x1="411.2" y1="105.5" x2="411.2" y2="106.6" stroke="#222" stroke-width="0.8"/>
<line x1="412.9" y1="105.5" x2="412.9" y2="106.6" stroke="#222" stroke-width="0.8"/>
<line x1="414.3" y1="105.5" x2="414.3" y2="106.6" stroke="#222" stroke-width="0.8"/>
<line x1="415.5" y1="105.5" x2="415.5" y2="106.6" stroke="#222" stroke-width="0.8"/>
<line x1="416.6" y1="105.5" x2="416.6" y2="106.6" stroke="#222" stroke-width="0.8"/>
<line x1="417.6" y1="105.5" x2="417.6" y2="107.7" stroke="#222" stroke-width="0.8"/>
<line x1="424.0" y1="105.5" x2="424.0" y2="106.6" stroke="#222" stroke-width="0.8"/>
<line x1="427.7" y1="105.5" x2="427.7" y2="106.6" stroke="#222" stroke-width="0.8"/>
<line x1="430.4" y1="105.5" x2="430.4" y2="106.6" stroke="#222" stroke-width="0.8"/>
<line x1="432.4" y1="105.5" x2="432.4" y2="106.6" stroke="#222" stroke-width="0.8"/>
<line x1="434.1" y1="105.5" x2="434.1" y2="106.6" stroke="#222" stroke-width="0.8"/>
<line x1="435.5" y1="105.5" x2="435.5" y2="106.6" stroke="#222" stroke-width="0.8"/>
<line x1="436.7" y1="105.5" x2="436.7" y2="106.6" stroke="#222" stroke-width="0.8"/>
<line x1="437.8" y1="105.5" x2="437.8" y2="106.6" stroke="#222" stroke-width="0.8"/>
<line x1="438.8" y1="105.5" x2="438.8" y2="107.7" stroke="#222" stroke-width="0.8"/>
<line x1="351.5" y1="105.5" x2="354.0" y2="105.5" stroke="#222" stroke-width="1"/>
<line x1="356.9" y1="112.8" x2="356.9" y2="115.4" stroke="#1a1a1a" stroke-width="0.9"/>
<ellipse cx="358.7" cy="114.1" rx="0.8" ry="1.15" fill="none" stroke="#1a1a1a" stroke-width="0.8"/>
<ellipse cx="360.5" cy="111.4" rx="0.75" ry="0.95" fill="#222"/>
<line x1="375.4" y1="112.8" x2="375.4" y2="115.4" stroke="#1a1a1a" stroke-width="0.9"/>
<ellipse cx="377.2" cy="114.1" rx="0.8" ry="1.15" fill="none" stroke="#1a1a1a" stroke-width="0.8"/>
<ellipse cx="379.0" cy="111.4" rx="0.75" ry="0.95" fill="#222"/>
<line x1="395.9" y1="112.8" x2="395.9" y2="115.4" stroke="#1a1a1a" stroke-width="0.9"/>
<ellipse cx="397.7" cy="114.1" rx="0.8" ry="1.15" fill="none" stroke="#1a1a1a" stroke-width="0.8"/>
<ellipse cx="399.5" cy="111.4" rx="0.75" ry="0.95" fill="#222"/>
<line x1="416.4" y1="112.8" x2="416.4" y2="115.4" stroke="#1a1a1a" stroke-width="0.9"/>
<ellipse cx="418.2" cy="114.1" rx="0.8" ry="1.15" fill="none" stroke="#1a1a1a" stroke-width="0.8"/>
<ellipse cx="420.0" cy="111.4" rx="0.75" ry="0.95" fill="#222"/>
<line x1="434.4" y1="112.8" x2="434.4" y2="115.4" stroke="#1a1a1a" stroke-width="0.9"/>
<ellipse cx="436.2" cy="114.1" rx="0.8" ry="1.15" fill="none" stroke="#1a1a1a" stroke-width="0.8"/>
<ellipse cx="438.0" cy="111.4" rx="0.75" ry="0.95" fill="#222"/>
<polygon points="48.0,208.4 48.0,208.4 55.0,207.8 62.0,207.2 64.0,206.5 65.6,206.0 68.0,203.6 70.4,198.8 72.0,194.0 73.6,189.2 74.7,184.4 76.0,179.6 77.6,174.8 78.4,170.6 79.2,168.2 80.0,169.0 80.8,165.8 81.6,162.6 82.4,163.4 83.2,160.2 84.0,157.8 84.8,160.2 85.6,161.0 86.4,158.6 87.2,156.2 88.0,154.9 88.8,157.0 89.6,159.4 90.4,161.0 91.2,165.0 92.0,165.8 92.8,168.2 93.6,167.4 94.4,169.8 95.2,170.6 96.0,173.0 96.8,174.6 97.6,173.8 98.4,174.6 99.2,176.2 100.0,177.8 100.8,179.4 101.6,182.6 102.4,185.0 104.3,191.6 106.1,198.0 108.0,203.6 110.8,207.3 113.5,208.2 118.3,208.4 118.3,208.4" fill="#8a8a8a" stroke="none"/>
<polygon points="33.4,208.4 33.4,200.2 35.6,201.4 37.7,201.1 39.6,199.2 41.2,194.6 42.8,188.3 44.1,180.3 45.5,172.0 46.3,167.4 46.9,161.4 47.4,155.3 48.2,152.2 49.7,148.4 50.9,146.2 51.7,137.0 52.4,146.2 53.9,149.2 55.0,153.8 55.8,159.8 56.2,165.9 56.6,172.0 57.5,180.0 58.8,188.0 60.4,196.0 62.0,201.4 63.6,204.6 65.2,205.8 67.6,206.4 70.0,207.6 70.0,208.4" fill="#fff" fill-opacity="0.42" stroke="none"/>
<polyline points="48.0,208.4 55.0,207.8 62.0,207.2 64.0,206.5 65.6,206.0 68.0,203.6 70.4,198.8 72.0,194.0 73.6,189.2 74.7,184.4 76.0,179.6 77.6,174.8 78.4,170.6 79.2,168.2 80.0,169.0 80.8,165.8 81.6,162.6 82.4,163.4 83.2,160.2 84.0,157.8 84.8,160.2 85.6,161.0 86.4,158.6 87.2,156.2 88.0,154.9 88.8,157.0 89.6,159.4 90.4,161.0 91.2,165.0 92.0,165.8 92.8,168.2 93.6,167.4 94.4,169.8 95.2,170.6 96.0,173.0 96.8,174.6 97.6,173.8 98.4,174.6 99.2,176.2 100.0,177.8 100.8,179.4 101.6,182.6 102.4,185.0 104.3,191.6 106.1,198.0 108.0,203.6 110.8,207.3 113.5,208.2 118.3,208.4" fill="none" stroke="#111" stroke-width="0.8" stroke-linejoin="round"/>
<polyline points="33.4,200.2 35.6,201.4 37.7,201.1 39.6,199.2 41.2,194.6 42.8,188.3 44.1,180.3 45.5,172.0 46.3,167.4 46.9,161.4 47.4,155.3 48.2,152.2 49.7,148.4 50.9,146.2 51.7,137.0 52.4,146.2 53.9,149.2 55.0,153.8 55.8,159.8 56.2,165.9 56.6,172.0 57.5,180.0 58.8,188.0 60.4,196.0 62.0,201.4 63.6,204.6 65.2,205.8 67.6,206.4 70.0,207.6" fill="none" stroke="#111" stroke-width="0.8" stroke-linejoin="round"/>
<path d="M33.4,123.8 H118.4 V208.4" fill="none" stroke="#5a5a5a" stroke-width="1.1"/>
<path d="M33.4,123.8 V208.4 H118.4" fill="none" stroke="#1e1e1e" stroke-width="1.15"/>
<line x1="32.2" y1="125.6" x2="33.4" y2="125.6" stroke="#222" stroke-width="0.9"/>
<line x1="32.2" y1="132.5" x2="33.4" y2="132.5" stroke="#222" stroke-width="0.9"/>
<line x1="32.2" y1="139.4" x2="33.4" y2="139.4" stroke="#222" stroke-width="0.9"/>
<line x1="32.2" y1="146.3" x2="33.4" y2="146.3" stroke="#222" stroke-width="0.9"/>
<line x1="32.2" y1="153.2" x2="33.4" y2="153.2" stroke="#222" stroke-width="0.9"/>
<line x1="32.2" y1="160.1" x2="33.4" y2="160.1" stroke="#222" stroke-width="0.9"/>
<line x1="32.2" y1="167.0" x2="33.4" y2="167.0" stroke="#222" stroke-width="0.9"/>
<line x1="32.2" y1="173.9" x2="33.4" y2="173.9" stroke="#222" stroke-width="0.9"/>
<line x1="32.2" y1="180.8" x2="33.4" y2="180.8" stroke="#222" stroke-width="0.9"/>
<line x1="32.2" y1="187.7" x2="33.4" y2="187.7" stroke="#222" stroke-width="0.9"/>
<line x1="32.2" y1="194.6" x2="33.4" y2="194.6" stroke="#222" stroke-width="0.9"/>
<line x1="32.2" y1="201.5" x2="33.4" y2="201.5" stroke="#222" stroke-width="0.9"/>
<line x1="31.0" y1="127.2" x2="33.4" y2="127.2" stroke="#222" stroke-width="0.9"/>
<line x1="31.0" y1="154.8" x2="33.4" y2="154.8" stroke="#222" stroke-width="0.9"/>
<line x1="31.0" y1="182.0" x2="33.4" y2="182.0" stroke="#222" stroke-width="0.9"/>
<line x1="33.4" y1="208.4" x2="33.4" y2="210.6" stroke="#222" stroke-width="0.8"/>
<line x1="39.8" y1="208.4" x2="39.8" y2="209.5" stroke="#222" stroke-width="0.8"/>
<line x1="43.5" y1="208.4" x2="43.5" y2="209.5" stroke="#222" stroke-width="0.8"/>
<line x1="46.2" y1="208.4" x2="46.2" y2="209.5" stroke="#222" stroke-width="0.8"/>
<line x1="48.3" y1="208.4" x2="48.3" y2="209.5" stroke="#222" stroke-width="0.8"/>
<line x1="49.9" y1="208.4" x2="49.9" y2="209.5" stroke="#222" stroke-width="0.8"/>
<line x1="51.4" y1="208.4" x2="51.4" y2="209.5" stroke="#222" stroke-width="0.8"/>
<line x1="52.6" y1="208.4" x2="52.6" y2="209.5" stroke="#222" stroke-width="0.8"/>
<line x1="53.7" y1="208.4" x2="53.7" y2="209.5" stroke="#222" stroke-width="0.8"/>
<line x1="54.6" y1="208.4" x2="54.6" y2="210.6" stroke="#222" stroke-width="0.8"/>
<line x1="61.0" y1="208.4" x2="61.0" y2="209.5" stroke="#222" stroke-width="0.8"/>
<line x1="64.8" y1="208.4" x2="64.8" y2="209.5" stroke="#222" stroke-width="0.8"/>
<line x1="67.4" y1="208.4" x2="67.4" y2="209.5" stroke="#222" stroke-width="0.8"/>
<line x1="69.5" y1="208.4" x2="69.5" y2="209.5" stroke="#222" stroke-width="0.8"/>
<line x1="71.2" y1="208.4" x2="71.2" y2="209.5" stroke="#222" stroke-width="0.8"/>
<line x1="72.6" y1="208.4" x2="72.6" y2="209.5" stroke="#222" stroke-width="0.8"/>
<line x1="73.8" y1="208.4" x2="73.8" y2="209.5" stroke="#222" stroke-width="0.8"/>
<line x1="74.9" y1="208.4" x2="74.9" y2="209.5" stroke="#222" stroke-width="0.8"/>
<line x1="75.9" y1="208.4" x2="75.9" y2="210.6" stroke="#222" stroke-width="0.8"/>
<line x1="82.3" y1="208.4" x2="82.3" y2="209.5" stroke="#222" stroke-width="0.8"/>
<line x1="86.0" y1="208.4" x2="86.0" y2="209.5" stroke="#222" stroke-width="0.8"/>
<line x1="88.7" y1="208.4" x2="88.7" y2="209.5" stroke="#222" stroke-width="0.8"/>
<line x1="90.8" y1="208.4" x2="90.8" y2="209.5" stroke="#222" stroke-width="0.8"/>
<line x1="92.4" y1="208.4" x2="92.4" y2="209.5" stroke="#222" stroke-width="0.8"/>
<line x1="93.9" y1="208.4" x2="93.9" y2="209.5" stroke="#222" stroke-width="0.8"/>
<line x1="95.1" y1="208.4" x2="95.1" y2="209.5" stroke="#222" stroke-width="0.8"/>
<line x1="96.2" y1="208.4" x2="96.2" y2="209.5" stroke="#222" stroke-width="0.8"/>
<line x1="97.2" y1="208.4" x2="97.2" y2="210.6" stroke="#222" stroke-width="0.8"/>
<line x1="103.5" y1="208.4" x2="103.5" y2="209.5" stroke="#222" stroke-width="0.8"/>
<line x1="107.3" y1="208.4" x2="107.3" y2="209.5" stroke="#222" stroke-width="0.8"/>
<line x1="109.9" y1="208.4" x2="109.9" y2="209.5" stroke="#222" stroke-width="0.8"/>
<line x1="112.0" y1="208.4" x2="112.0" y2="209.5" stroke="#222" stroke-width="0.8"/>
<line x1="113.7" y1="208.4" x2="113.7" y2="209.5" stroke="#222" stroke-width="0.8"/>
<line x1="115.1" y1="208.4" x2="115.1" y2="209.5" stroke="#222" stroke-width="0.8"/>
<line x1="116.3" y1="208.4" x2="116.3" y2="209.5" stroke="#222" stroke-width="0.8"/>
<line x1="117.4" y1="208.4" x2="117.4" y2="209.5" stroke="#222" stroke-width="0.8"/>
<line x1="118.4" y1="208.4" x2="118.4" y2="210.6" stroke="#222" stroke-width="0.8"/>
<line x1="30.9" y1="208.4" x2="33.4" y2="208.4" stroke="#222" stroke-width="1"/>
<line x1="36.3" y1="215.7" x2="36.3" y2="218.3" stroke="#1a1a1a" stroke-width="0.9"/>
<ellipse cx="38.1" cy="217.0" rx="0.8" ry="1.15" fill="none" stroke="#1a1a1a" stroke-width="0.8"/>
<ellipse cx="39.9" cy="214.3" rx="0.75" ry="0.95" fill="#222"/>
<line x1="54.8" y1="215.7" x2="54.8" y2="218.3" stroke="#1a1a1a" stroke-width="0.9"/>
<ellipse cx="56.6" cy="217.0" rx="0.8" ry="1.15" fill="none" stroke="#1a1a1a" stroke-width="0.8"/>
<ellipse cx="58.4" cy="214.3" rx="0.75" ry="0.95" fill="#222"/>
<line x1="75.3" y1="215.7" x2="75.3" y2="218.3" stroke="#1a1a1a" stroke-width="0.9"/>
<ellipse cx="77.1" cy="217.0" rx="0.8" ry="1.15" fill="none" stroke="#1a1a1a" stroke-width="0.8"/>
<ellipse cx="78.9" cy="214.3" rx="0.75" ry="0.95" fill="#222"/>
<line x1="95.8" y1="215.7" x2="95.8" y2="218.3" stroke="#1a1a1a" stroke-width="0.9"/>
<ellipse cx="97.6" cy="217.0" rx="0.8" ry="1.15" fill="none" stroke="#1a1a1a" stroke-width="0.8"/>
<ellipse cx="99.4" cy="214.3" rx="0.75" ry="0.95" fill="#222"/>
<line x1="113.8" y1="215.7" x2="113.8" y2="218.3" stroke="#1a1a1a" stroke-width="0.9"/>
<ellipse cx="115.6" cy="217.0" rx="0.8" ry="1.15" fill="none" stroke="#1a1a1a" stroke-width="0.8"/>
<ellipse cx="117.4" cy="214.3" rx="0.75" ry="0.95" fill="#222"/>
<polygon points="150.0,209.3 150.0,209.3 155.4,208.9 158.2,206.4 160.9,202.7 163.7,199.0 166.5,193.5 168.7,184.3 169.9,174.0 170.4,170.0 171.2,166.0 172.0,162.0 172.8,158.0 173.6,154.0 174.4,150.8 174.9,146.0 175.5,141.5 176.0,146.0 176.5,150.8 177.6,154.8 178.4,158.0 179.2,161.2 180.0,166.8 180.6,170.0 181.5,173.0 182.7,180.6 184.5,189.8 186.4,197.1 188.2,202.7 191.0,207.3 193.7,208.8 197.0,209.3 197.0,209.3" fill="#8a8a8a" stroke="none"/>
<polygon points="139.2,209.3 139.2,188.6 141.0,181.9 142.6,175.2 143.7,170.5 144.8,166.2 145.6,162.5 146.4,159.9 147.8,166.2 148.7,165.1 150.5,171.8 152.7,177.4 154.9,184.1 157.2,190.9 159.4,197.6 161.7,204.3 163.9,208.4 166.0,209.3 166.0,209.3" fill="#fff" fill-opacity="0.42" stroke="none"/>
<polyline points="150.0,209.3 155.4,208.9 158.2,206.4 160.9,202.7 163.7,199.0 166.5,193.5 168.7,184.3 169.9,174.0 170.4,170.0 171.2,166.0 172.0,162.0 172.8,158.0 173.6,154.0 174.4,150.8 174.9,146.0 175.5,141.5 176.0,146.0 176.5,150.8 177.6,154.8 178.4,158.0 179.2,161.2 180.0,166.8 180.6,170.0 181.5,173.0 182.7,180.6 184.5,189.8 186.4,197.1 188.2,202.7 191.0,207.3 193.7,208.8 197.0,209.3" fill="none" stroke="#111" stroke-width="0.8" stroke-linejoin="round"/>
<polyline points="139.2,188.6 141.0,181.9 142.6,175.2 143.7,170.5 144.8,166.2 145.6,162.5 146.4,159.9 147.8,166.2 148.7,165.1 150.5,171.8 152.7,177.4 154.9,184.1 157.2,190.9 159.4,197.6 161.7,204.3 163.9,208.4 166.0,209.3" fill="none" stroke="#111" stroke-width="0.8" stroke-linejoin="round"/>
<path d="M139.0,124.7 H223.8 V209.3" fill="none" stroke="#5a5a5a" stroke-width="1.1"/>
<path d="M139.0,124.7 V209.3 H223.8" fill="none" stroke="#1e1e1e" stroke-width="1.15"/>
<line x1="137.8" y1="129.8" x2="139.0" y2="129.8" stroke="#222" stroke-width="0.9"/>
<line x1="137.8" y1="135.1" x2="139.0" y2="135.1" stroke="#222" stroke-width="0.9"/>
<line x1="137.8" y1="140.4" x2="139.0" y2="140.4" stroke="#222" stroke-width="0.9"/>
<line x1="137.8" y1="145.7" x2="139.0" y2="145.7" stroke="#222" stroke-width="0.9"/>
<line x1="137.8" y1="151.0" x2="139.0" y2="151.0" stroke="#222" stroke-width="0.9"/>
<line x1="137.8" y1="156.3" x2="139.0" y2="156.3" stroke="#222" stroke-width="0.9"/>
<line x1="137.8" y1="161.6" x2="139.0" y2="161.6" stroke="#222" stroke-width="0.9"/>
<line x1="137.8" y1="166.9" x2="139.0" y2="166.9" stroke="#222" stroke-width="0.9"/>
<line x1="137.8" y1="172.2" x2="139.0" y2="172.2" stroke="#222" stroke-width="0.9"/>
<line x1="137.8" y1="177.5" x2="139.0" y2="177.5" stroke="#222" stroke-width="0.9"/>
<line x1="137.8" y1="182.8" x2="139.0" y2="182.8" stroke="#222" stroke-width="0.9"/>
<line x1="137.8" y1="188.1" x2="139.0" y2="188.1" stroke="#222" stroke-width="0.9"/>
<line x1="137.8" y1="193.4" x2="139.0" y2="193.4" stroke="#222" stroke-width="0.9"/>
<line x1="137.8" y1="198.7" x2="139.0" y2="198.7" stroke="#222" stroke-width="0.9"/>
<line x1="137.8" y1="204.0" x2="139.0" y2="204.0" stroke="#222" stroke-width="0.9"/>
<line x1="136.6" y1="129.4" x2="139.0" y2="129.4" stroke="#222" stroke-width="0.9"/>
<line x1="136.6" y1="150.5" x2="139.0" y2="150.5" stroke="#222" stroke-width="0.9"/>
<line x1="136.6" y1="171.6" x2="139.0" y2="171.6" stroke="#222" stroke-width="0.9"/>
<line x1="136.6" y1="192.7" x2="139.0" y2="192.7" stroke="#222" stroke-width="0.9"/>
<line x1="139.0" y1="209.3" x2="139.0" y2="211.5" stroke="#222" stroke-width="0.8"/>
<line x1="145.4" y1="209.3" x2="145.4" y2="210.4" stroke="#222" stroke-width="0.8"/>
<line x1="149.1" y1="209.3" x2="149.1" y2="210.4" stroke="#222" stroke-width="0.8"/>
<line x1="151.8" y1="209.3" x2="151.8" y2="210.4" stroke="#222" stroke-width="0.8"/>
<line x1="153.8" y1="209.3" x2="153.8" y2="210.4" stroke="#222" stroke-width="0.8"/>
<line x1="155.5" y1="209.3" x2="155.5" y2="210.4" stroke="#222" stroke-width="0.8"/>
<line x1="156.9" y1="209.3" x2="156.9" y2="210.4" stroke="#222" stroke-width="0.8"/>
<line x1="158.1" y1="209.3" x2="158.1" y2="210.4" stroke="#222" stroke-width="0.8"/>
<line x1="159.2" y1="209.3" x2="159.2" y2="210.4" stroke="#222" stroke-width="0.8"/>
<line x1="160.2" y1="209.3" x2="160.2" y2="211.5" stroke="#222" stroke-width="0.8"/>
<line x1="166.6" y1="209.3" x2="166.6" y2="210.4" stroke="#222" stroke-width="0.8"/>
<line x1="170.3" y1="209.3" x2="170.3" y2="210.4" stroke="#222" stroke-width="0.8"/>
<line x1="173.0" y1="209.3" x2="173.0" y2="210.4" stroke="#222" stroke-width="0.8"/>
<line x1="175.0" y1="209.3" x2="175.0" y2="210.4" stroke="#222" stroke-width="0.8"/>
<line x1="176.7" y1="209.3" x2="176.7" y2="210.4" stroke="#222" stroke-width="0.8"/>
<line x1="178.1" y1="209.3" x2="178.1" y2="210.4" stroke="#222" stroke-width="0.8"/>
<line x1="179.3" y1="209.3" x2="179.3" y2="210.4" stroke="#222" stroke-width="0.8"/>
<line x1="180.4" y1="209.3" x2="180.4" y2="210.4" stroke="#222" stroke-width="0.8"/>
<line x1="181.4" y1="209.3" x2="181.4" y2="211.5" stroke="#222" stroke-width="0.8"/>
<line x1="187.8" y1="209.3" x2="187.8" y2="210.4" stroke="#222" stroke-width="0.8"/>
<line x1="191.5" y1="209.3" x2="191.5" y2="210.4" stroke="#222" stroke-width="0.8"/>
<line x1="194.2" y1="209.3" x2="194.2" y2="210.4" stroke="#222" stroke-width="0.8"/>
<line x1="196.2" y1="209.3" x2="196.2" y2="210.4" stroke="#222" stroke-width="0.8"/>
<line x1="197.9" y1="209.3" x2="197.9" y2="210.4" stroke="#222" stroke-width="0.8"/>
<line x1="199.3" y1="209.3" x2="199.3" y2="210.4" stroke="#222" stroke-width="0.8"/>
<line x1="200.5" y1="209.3" x2="200.5" y2="210.4" stroke="#222" stroke-width="0.8"/>
<line x1="201.6" y1="209.3" x2="201.6" y2="210.4" stroke="#222" stroke-width="0.8"/>
<line x1="202.6" y1="209.3" x2="202.6" y2="211.5" stroke="#222" stroke-width="0.8"/>
<line x1="209.0" y1="209.3" x2="209.0" y2="210.4" stroke="#222" stroke-width="0.8"/>
<line x1="212.7" y1="209.3" x2="212.7" y2="210.4" stroke="#222" stroke-width="0.8"/>
<line x1="215.4" y1="209.3" x2="215.4" y2="210.4" stroke="#222" stroke-width="0.8"/>
<line x1="217.4" y1="209.3" x2="217.4" y2="210.4" stroke="#222" stroke-width="0.8"/>
<line x1="219.1" y1="209.3" x2="219.1" y2="210.4" stroke="#222" stroke-width="0.8"/>
<line x1="220.5" y1="209.3" x2="220.5" y2="210.4" stroke="#222" stroke-width="0.8"/>
<line x1="221.7" y1="209.3" x2="221.7" y2="210.4" stroke="#222" stroke-width="0.8"/>
<line x1="222.8" y1="209.3" x2="222.8" y2="210.4" stroke="#222" stroke-width="0.8"/>
<line x1="223.8" y1="209.3" x2="223.8" y2="211.5" stroke="#222" stroke-width="0.8"/>
<line x1="136.5" y1="209.3" x2="139.0" y2="209.3" stroke="#222" stroke-width="1"/>
<line x1="141.9" y1="216.6" x2="141.9" y2="219.2" stroke="#1a1a1a" stroke-width="0.9"/>
<ellipse cx="143.7" cy="217.9" rx="0.8" ry="1.15" fill="none" stroke="#1a1a1a" stroke-width="0.8"/>
<ellipse cx="145.5" cy="215.2" rx="0.75" ry="0.95" fill="#222"/>
<line x1="160.4" y1="216.6" x2="160.4" y2="219.2" stroke="#1a1a1a" stroke-width="0.9"/>
<ellipse cx="162.2" cy="217.9" rx="0.8" ry="1.15" fill="none" stroke="#1a1a1a" stroke-width="0.8"/>
<ellipse cx="164.0" cy="215.2" rx="0.75" ry="0.95" fill="#222"/>
<line x1="180.9" y1="216.6" x2="180.9" y2="219.2" stroke="#1a1a1a" stroke-width="0.9"/>
<ellipse cx="182.7" cy="217.9" rx="0.8" ry="1.15" fill="none" stroke="#1a1a1a" stroke-width="0.8"/>
<ellipse cx="184.5" cy="215.2" rx="0.75" ry="0.95" fill="#222"/>
<line x1="201.4" y1="216.6" x2="201.4" y2="219.2" stroke="#1a1a1a" stroke-width="0.9"/>
<ellipse cx="203.2" cy="217.9" rx="0.8" ry="1.15" fill="none" stroke="#1a1a1a" stroke-width="0.8"/>
<ellipse cx="205.0" cy="215.2" rx="0.75" ry="0.95" fill="#222"/>
<line x1="219.4" y1="216.6" x2="219.4" y2="219.2" stroke="#1a1a1a" stroke-width="0.9"/>
<ellipse cx="221.2" cy="217.9" rx="0.8" ry="1.15" fill="none" stroke="#1a1a1a" stroke-width="0.8"/>
<ellipse cx="223.0" cy="215.2" rx="0.75" ry="0.95" fill="#222"/>
<polygon points="256.0,209.0 256.0,209.0 262.4,208.3 264.8,204.8 266.4,200.8 267.2,196.0 268.0,191.2 268.8,184.8 269.6,178.4 270.4,172.0 270.9,166.0 271.2,160.0 271.6,154.0 272.1,147.6 272.7,143.6 273.4,146.5 274.2,144.0 275.3,141.2 275.6,146.0 275.9,152.4 276.9,154.0 278.0,155.6 278.5,159.6 278.8,165.2 279.5,170.4 280.5,180.8 281.5,191.2 282.6,199.6 284.3,204.8 286.8,207.9 289.0,209.0 289.0,209.0" fill="#8a8a8a" stroke="none"/>
<polygon points="246.3,209.0 246.3,191.5 247.2,191.2 248.8,190.4 250.4,188.8 252.0,186.4 253.6,184.0 254.4,181.6 255.2,183.2 256.0,182.4 256.8,184.8 258.4,187.2 260.0,188.8 261.6,191.2 263.2,192.8 264.8,196.0 266.4,200.0 268.0,204.0 269.6,207.6 271.2,208.8 273.5,209.0 273.5,209.0" fill="#fff" fill-opacity="0.42" stroke="none"/>
<polyline points="256.0,209.0 262.4,208.3 264.8,204.8 266.4,200.8 267.2,196.0 268.0,191.2 268.8,184.8 269.6,178.4 270.4,172.0 270.9,166.0 271.2,160.0 271.6,154.0 272.1,147.6 272.7,143.6 273.4,146.5 274.2,144.0 275.3,141.2 275.6,146.0 275.9,152.4 276.9,154.0 278.0,155.6 278.5,159.6 278.8,165.2 279.5,170.4 280.5,180.8 281.5,191.2 282.6,199.6 284.3,204.8 286.8,207.9 289.0,209.0" fill="none" stroke="#111" stroke-width="0.8" stroke-linejoin="round"/>
<polyline points="246.3,191.5 247.2,191.2 248.8,190.4 250.4,188.8 252.0,186.4 253.6,184.0 254.4,181.6 255.2,183.2 256.0,182.4 256.8,184.8 258.4,187.2 260.0,188.8 261.6,191.2 263.2,192.8 264.8,196.0 266.4,200.0 268.0,204.0 269.6,207.6 271.2,208.8 273.5,209.0" fill="none" stroke="#111" stroke-width="0.8" stroke-linejoin="round"/>
<path d="M246.3,125.0 H330.6 V209.0" fill="none" stroke="#5a5a5a" stroke-width="1.1"/>
<path d="M246.3,125.0 V209.0 H330.6" fill="none" stroke="#1e1e1e" stroke-width="1.15"/>
<line x1="245.1" y1="127.6" x2="246.3" y2="127.6" stroke="#222" stroke-width="0.9"/>
<line x1="245.1" y1="131.3" x2="246.3" y2="131.3" stroke="#222" stroke-width="0.9"/>
<line x1="245.1" y1="135.0" x2="246.3" y2="135.0" stroke="#222" stroke-width="0.9"/>
<line x1="245.1" y1="138.7" x2="246.3" y2="138.7" stroke="#222" stroke-width="0.9"/>
<line x1="245.1" y1="142.4" x2="246.3" y2="142.4" stroke="#222" stroke-width="0.9"/>
<line x1="245.1" y1="146.1" x2="246.3" y2="146.1" stroke="#222" stroke-width="0.9"/>
<line x1="245.1" y1="149.8" x2="246.3" y2="149.8" stroke="#222" stroke-width="0.9"/>
<line x1="245.1" y1="153.5" x2="246.3" y2="153.5" stroke="#222" stroke-width="0.9"/>
<line x1="245.1" y1="157.2" x2="246.3" y2="157.2" stroke="#222" stroke-width="0.9"/>
<line x1="245.1" y1="160.9" x2="246.3" y2="160.9" stroke="#222" stroke-width="0.9"/>
<line x1="245.1" y1="164.6" x2="246.3" y2="164.6" stroke="#222" stroke-width="0.9"/>
<line x1="245.1" y1="168.3" x2="246.3" y2="168.3" stroke="#222" stroke-width="0.9"/>
<line x1="245.1" y1="172.0" x2="246.3" y2="172.0" stroke="#222" stroke-width="0.9"/>
<line x1="245.1" y1="175.7" x2="246.3" y2="175.7" stroke="#222" stroke-width="0.9"/>
<line x1="245.1" y1="179.4" x2="246.3" y2="179.4" stroke="#222" stroke-width="0.9"/>
<line x1="245.1" y1="183.1" x2="246.3" y2="183.1" stroke="#222" stroke-width="0.9"/>
<line x1="245.1" y1="186.8" x2="246.3" y2="186.8" stroke="#222" stroke-width="0.9"/>
<line x1="245.1" y1="190.5" x2="246.3" y2="190.5" stroke="#222" stroke-width="0.9"/>
<line x1="245.1" y1="194.2" x2="246.3" y2="194.2" stroke="#222" stroke-width="0.9"/>
<line x1="245.1" y1="197.9" x2="246.3" y2="197.9" stroke="#222" stroke-width="0.9"/>
<line x1="245.1" y1="201.6" x2="246.3" y2="201.6" stroke="#222" stroke-width="0.9"/>
<line x1="245.1" y1="205.3" x2="246.3" y2="205.3" stroke="#222" stroke-width="0.9"/>
<line x1="243.9" y1="134.9" x2="246.3" y2="134.9" stroke="#222" stroke-width="0.9"/>
<line x1="243.9" y1="149.6" x2="246.3" y2="149.6" stroke="#222" stroke-width="0.9"/>
<line x1="243.9" y1="164.3" x2="246.3" y2="164.3" stroke="#222" stroke-width="0.9"/>
<line x1="243.9" y1="179.0" x2="246.3" y2="179.0" stroke="#222" stroke-width="0.9"/>
<line x1="243.9" y1="193.7" x2="246.3" y2="193.7" stroke="#222" stroke-width="0.9"/>
<line x1="246.3" y1="209.0" x2="246.3" y2="211.2" stroke="#222" stroke-width="0.8"/>
<line x1="252.6" y1="209.0" x2="252.6" y2="210.1" stroke="#222" stroke-width="0.8"/>
<line x1="256.4" y1="209.0" x2="256.4" y2="210.1" stroke="#222" stroke-width="0.8"/>
<line x1="259.0" y1="209.0" x2="259.0" y2="210.1" stroke="#222" stroke-width="0.8"/>
<line x1="261.0" y1="209.0" x2="261.0" y2="210.1" stroke="#222" stroke-width="0.8"/>
<line x1="262.7" y1="209.0" x2="262.7" y2="210.1" stroke="#222" stroke-width="0.8"/>
<line x1="264.1" y1="209.0" x2="264.1" y2="210.1" stroke="#222" stroke-width="0.8"/>
<line x1="265.3" y1="209.0" x2="265.3" y2="210.1" stroke="#222" stroke-width="0.8"/>
<line x1="266.4" y1="209.0" x2="266.4" y2="210.1" stroke="#222" stroke-width="0.8"/>
<line x1="267.4" y1="209.0" x2="267.4" y2="211.2" stroke="#222" stroke-width="0.8"/>
<line x1="273.7" y1="209.0" x2="273.7" y2="210.1" stroke="#222" stroke-width="0.8"/>
<line x1="277.4" y1="209.0" x2="277.4" y2="210.1" stroke="#222" stroke-width="0.8"/>
<line x1="280.1" y1="209.0" x2="280.1" y2="210.1" stroke="#222" stroke-width="0.8"/>
<line x1="282.1" y1="209.0" x2="282.1" y2="210.1" stroke="#222" stroke-width="0.8"/>
<line x1="283.8" y1="209.0" x2="283.8" y2="210.1" stroke="#222" stroke-width="0.8"/>
<line x1="285.2" y1="209.0" x2="285.2" y2="210.1" stroke="#222" stroke-width="0.8"/>
<line x1="286.4" y1="209.0" x2="286.4" y2="210.1" stroke="#222" stroke-width="0.8"/>
<line x1="287.5" y1="209.0" x2="287.5" y2="210.1" stroke="#222" stroke-width="0.8"/>
<line x1="288.5" y1="209.0" x2="288.5" y2="211.2" stroke="#222" stroke-width="0.8"/>
<line x1="294.8" y1="209.0" x2="294.8" y2="210.1" stroke="#222" stroke-width="0.8"/>
<line x1="298.5" y1="209.0" x2="298.5" y2="210.1" stroke="#222" stroke-width="0.8"/>
<line x1="301.1" y1="209.0" x2="301.1" y2="210.1" stroke="#222" stroke-width="0.8"/>
<line x1="303.2" y1="209.0" x2="303.2" y2="210.1" stroke="#222" stroke-width="0.8"/>
<line x1="304.8" y1="209.0" x2="304.8" y2="210.1" stroke="#222" stroke-width="0.8"/>
<line x1="306.3" y1="209.0" x2="306.3" y2="210.1" stroke="#222" stroke-width="0.8"/>
<line x1="307.5" y1="209.0" x2="307.5" y2="210.1" stroke="#222" stroke-width="0.8"/>
<line x1="308.6" y1="209.0" x2="308.6" y2="210.1" stroke="#222" stroke-width="0.8"/>
<line x1="309.5" y1="209.0" x2="309.5" y2="211.2" stroke="#222" stroke-width="0.8"/>
<line x1="315.9" y1="209.0" x2="315.9" y2="210.1" stroke="#222" stroke-width="0.8"/>
<line x1="319.6" y1="209.0" x2="319.6" y2="210.1" stroke="#222" stroke-width="0.8"/>
<line x1="322.2" y1="209.0" x2="322.2" y2="210.1" stroke="#222" stroke-width="0.8"/>
<line x1="324.3" y1="209.0" x2="324.3" y2="210.1" stroke="#222" stroke-width="0.8"/>
<line x1="325.9" y1="209.0" x2="325.9" y2="210.1" stroke="#222" stroke-width="0.8"/>
<line x1="327.3" y1="209.0" x2="327.3" y2="210.1" stroke="#222" stroke-width="0.8"/>
<line x1="328.6" y1="209.0" x2="328.6" y2="210.1" stroke="#222" stroke-width="0.8"/>
<line x1="329.6" y1="209.0" x2="329.6" y2="210.1" stroke="#222" stroke-width="0.8"/>
<line x1="330.6" y1="209.0" x2="330.6" y2="211.2" stroke="#222" stroke-width="0.8"/>
<line x1="243.8" y1="209.0" x2="246.3" y2="209.0" stroke="#222" stroke-width="1"/>
<line x1="249.2" y1="216.3" x2="249.2" y2="218.9" stroke="#1a1a1a" stroke-width="0.9"/>
<ellipse cx="251.0" cy="217.6" rx="0.8" ry="1.15" fill="none" stroke="#1a1a1a" stroke-width="0.8"/>
<ellipse cx="252.8" cy="214.9" rx="0.75" ry="0.95" fill="#222"/>
<line x1="267.7" y1="216.3" x2="267.7" y2="218.9" stroke="#1a1a1a" stroke-width="0.9"/>
<ellipse cx="269.5" cy="217.6" rx="0.8" ry="1.15" fill="none" stroke="#1a1a1a" stroke-width="0.8"/>
<ellipse cx="271.3" cy="214.9" rx="0.75" ry="0.95" fill="#222"/>
<line x1="288.2" y1="216.3" x2="288.2" y2="218.9" stroke="#1a1a1a" stroke-width="0.9"/>
<ellipse cx="290.0" cy="217.6" rx="0.8" ry="1.15" fill="none" stroke="#1a1a1a" stroke-width="0.8"/>
<ellipse cx="291.8" cy="214.9" rx="0.75" ry="0.95" fill="#222"/>
<line x1="308.7" y1="216.3" x2="308.7" y2="218.9" stroke="#1a1a1a" stroke-width="0.9"/>
<ellipse cx="310.5" cy="217.6" rx="0.8" ry="1.15" fill="none" stroke="#1a1a1a" stroke-width="0.8"/>
<ellipse cx="312.3" cy="214.9" rx="0.75" ry="0.95" fill="#222"/>
<line x1="326.7" y1="216.3" x2="326.7" y2="218.9" stroke="#1a1a1a" stroke-width="0.9"/>
<ellipse cx="328.5" cy="217.6" rx="0.8" ry="1.15" fill="none" stroke="#1a1a1a" stroke-width="0.8"/>
<ellipse cx="330.3" cy="214.9" rx="0.75" ry="0.95" fill="#222"/>
<polygon points="366.0,209.8 366.0,209.8 371.3,209.3 373.2,207.0 374.1,201.9 374.9,195.2 375.8,183.4 376.6,170.0 377.5,162.0 378.0,154.0 378.5,146.0 378.8,141.2 379.6,143.0 380.7,143.6 381.2,149.2 381.7,155.6 382.3,160.4 383.3,165.2 384.2,170.0 385.0,180.1 385.8,190.2 387.2,198.6 388.4,203.6 390.0,207.8 391.7,209.5 393.5,209.8 393.5,209.8" fill="#8a8a8a" stroke="none"/>
<polygon points="383.0,209.8 383.0,209.8 384.2,209.6 385.5,207.8 386.7,201.9 387.5,195.2 388.4,186.8 388.9,178.4 389.2,170.0 389.6,163.0 390.0,158.8 390.8,152.4 391.3,149.0 391.9,152.4 392.4,158.8 392.9,165.0 393.4,170.0 394.3,180.1 395.1,188.5 395.9,195.2 397.6,201.9 399.6,207.0 401.8,209.3 404.0,209.8 404.0,209.8" fill="#fff" fill-opacity="0.42" stroke="none"/>
<polyline points="366.0,209.8 371.3,209.3 373.2,207.0 374.1,201.9 374.9,195.2 375.8,183.4 376.6,170.0 377.5,162.0 378.0,154.0 378.5,146.0 378.8,141.2 379.6,143.0 380.7,143.6 381.2,149.2 381.7,155.6 382.3,160.4 383.3,165.2 384.2,170.0 385.0,180.1 385.8,190.2 387.2,198.6 388.4,203.6 390.0,207.8 391.7,209.5 393.5,209.8" fill="none" stroke="#111" stroke-width="0.8" stroke-linejoin="round"/>
<polyline points="383.0,209.8 384.2,209.6 385.5,207.8 386.7,201.9 387.5,195.2 388.4,186.8 388.9,178.4 389.2,170.0 389.6,163.0 390.0,158.8 390.8,152.4 391.3,149.0 391.9,152.4 392.4,158.8 392.9,165.0 393.4,170.0 394.3,180.1 395.1,188.5 395.9,195.2 397.6,201.9 399.6,207.0 401.8,209.3 404.0,209.8" fill="none" stroke="#111" stroke-width="0.8" stroke-linejoin="round"/>
<path d="M354.1,125.5 H438.7 V209.8" fill="none" stroke="#5a5a5a" stroke-width="1.1"/>
<path d="M354.1,125.5 V209.8 H438.7" fill="none" stroke="#1e1e1e" stroke-width="1.15"/>
<line x1="352.9" y1="131.1" x2="354.1" y2="131.1" stroke="#222" stroke-width="0.9"/>
<line x1="352.9" y1="136.3" x2="354.1" y2="136.3" stroke="#222" stroke-width="0.9"/>
<line x1="352.9" y1="141.6" x2="354.1" y2="141.6" stroke="#222" stroke-width="0.9"/>
<line x1="352.9" y1="146.8" x2="354.1" y2="146.8" stroke="#222" stroke-width="0.9"/>
<line x1="352.9" y1="152.1" x2="354.1" y2="152.1" stroke="#222" stroke-width="0.9"/>
<line x1="352.9" y1="157.3" x2="354.1" y2="157.3" stroke="#222" stroke-width="0.9"/>
<line x1="352.9" y1="162.6" x2="354.1" y2="162.6" stroke="#222" stroke-width="0.9"/>
<line x1="352.9" y1="167.8" x2="354.1" y2="167.8" stroke="#222" stroke-width="0.9"/>
<line x1="352.9" y1="173.1" x2="354.1" y2="173.1" stroke="#222" stroke-width="0.9"/>
<line x1="352.9" y1="178.3" x2="354.1" y2="178.3" stroke="#222" stroke-width="0.9"/>
<line x1="352.9" y1="183.6" x2="354.1" y2="183.6" stroke="#222" stroke-width="0.9"/>
<line x1="352.9" y1="188.8" x2="354.1" y2="188.8" stroke="#222" stroke-width="0.9"/>
<line x1="352.9" y1="194.1" x2="354.1" y2="194.1" stroke="#222" stroke-width="0.9"/>
<line x1="352.9" y1="199.3" x2="354.1" y2="199.3" stroke="#222" stroke-width="0.9"/>
<line x1="352.9" y1="204.6" x2="354.1" y2="204.6" stroke="#222" stroke-width="0.9"/>
<line x1="351.7" y1="146.0" x2="354.1" y2="146.0" stroke="#222" stroke-width="0.9"/>
<line x1="351.7" y1="167.0" x2="354.1" y2="167.0" stroke="#222" stroke-width="0.9"/>
<line x1="351.7" y1="188.0" x2="354.1" y2="188.0" stroke="#222" stroke-width="0.9"/>
<line x1="354.1" y1="209.8" x2="354.1" y2="212.0" stroke="#222" stroke-width="0.8"/>
<line x1="360.5" y1="209.8" x2="360.5" y2="210.9" stroke="#222" stroke-width="0.8"/>
<line x1="364.2" y1="209.8" x2="364.2" y2="210.9" stroke="#222" stroke-width="0.8"/>
<line x1="366.8" y1="209.8" x2="366.8" y2="210.9" stroke="#222" stroke-width="0.8"/>
<line x1="368.9" y1="209.8" x2="368.9" y2="210.9" stroke="#222" stroke-width="0.8"/>
<line x1="370.6" y1="209.8" x2="370.6" y2="210.9" stroke="#222" stroke-width="0.8"/>
<line x1="372.0" y1="209.8" x2="372.0" y2="210.9" stroke="#222" stroke-width="0.8"/>
<line x1="373.2" y1="209.8" x2="373.2" y2="210.9" stroke="#222" stroke-width="0.8"/>
<line x1="374.3" y1="209.8" x2="374.3" y2="210.9" stroke="#222" stroke-width="0.8"/>
<line x1="375.2" y1="209.8" x2="375.2" y2="212.0" stroke="#222" stroke-width="0.8"/>
<line x1="381.6" y1="209.8" x2="381.6" y2="210.9" stroke="#222" stroke-width="0.8"/>
<line x1="385.3" y1="209.8" x2="385.3" y2="210.9" stroke="#222" stroke-width="0.8"/>
<line x1="388.0" y1="209.8" x2="388.0" y2="210.9" stroke="#222" stroke-width="0.8"/>
<line x1="390.0" y1="209.8" x2="390.0" y2="210.9" stroke="#222" stroke-width="0.8"/>
<line x1="391.7" y1="209.8" x2="391.7" y2="210.9" stroke="#222" stroke-width="0.8"/>
<line x1="393.1" y1="209.8" x2="393.1" y2="210.9" stroke="#222" stroke-width="0.8"/>
<line x1="394.4" y1="209.8" x2="394.4" y2="210.9" stroke="#222" stroke-width="0.8"/>
<line x1="395.4" y1="209.8" x2="395.4" y2="210.9" stroke="#222" stroke-width="0.8"/>
<line x1="396.4" y1="209.8" x2="396.4" y2="212.0" stroke="#222" stroke-width="0.8"/>
<line x1="402.8" y1="209.8" x2="402.8" y2="210.9" stroke="#222" stroke-width="0.8"/>
<line x1="406.5" y1="209.8" x2="406.5" y2="210.9" stroke="#222" stroke-width="0.8"/>
<line x1="409.1" y1="209.8" x2="409.1" y2="210.9" stroke="#222" stroke-width="0.8"/>
<line x1="411.2" y1="209.8" x2="411.2" y2="210.9" stroke="#222" stroke-width="0.8"/>
<line x1="412.9" y1="209.8" x2="412.9" y2="210.9" stroke="#222" stroke-width="0.8"/>
<line x1="414.3" y1="209.8" x2="414.3" y2="210.9" stroke="#222" stroke-width="0.8"/>
<line x1="415.5" y1="209.8" x2="415.5" y2="210.9" stroke="#222" stroke-width="0.8"/>
<line x1="416.6" y1="209.8" x2="416.6" y2="210.9" stroke="#222" stroke-width="0.8"/>
<line x1="417.6" y1="209.8" x2="417.6" y2="212.0" stroke="#222" stroke-width="0.8"/>
<line x1="423.9" y1="209.8" x2="423.9" y2="210.9" stroke="#222" stroke-width="0.8"/>
<line x1="427.6" y1="209.8" x2="427.6" y2="210.9" stroke="#222" stroke-width="0.8"/>
<line x1="430.3" y1="209.8" x2="430.3" y2="210.9" stroke="#222" stroke-width="0.8"/>
<line x1="432.3" y1="209.8" x2="432.3" y2="210.9" stroke="#222" stroke-width="0.8"/>
<line x1="434.0" y1="209.8" x2="434.0" y2="210.9" stroke="#222" stroke-width="0.8"/>
<line x1="435.4" y1="209.8" x2="435.4" y2="210.9" stroke="#222" stroke-width="0.8"/>
<line x1="436.7" y1="209.8" x2="436.7" y2="210.9" stroke="#222" stroke-width="0.8"/>
<line x1="437.7" y1="209.8" x2="437.7" y2="210.9" stroke="#222" stroke-width="0.8"/>
<line x1="438.7" y1="209.8" x2="438.7" y2="212.0" stroke="#222" stroke-width="0.8"/>
<line x1="351.6" y1="209.8" x2="354.1" y2="209.8" stroke="#222" stroke-width="1"/>
<line x1="357.0" y1="217.1" x2="357.0" y2="219.7" stroke="#1a1a1a" stroke-width="0.9"/>
<ellipse cx="358.8" cy="218.4" rx="0.8" ry="1.15" fill="none" stroke="#1a1a1a" stroke-width="0.8"/>
<ellipse cx="360.6" cy="215.7" rx="0.75" ry="0.95" fill="#222"/>
<line x1="375.5" y1="217.1" x2="375.5" y2="219.7" stroke="#1a1a1a" stroke-width="0.9"/>
<ellipse cx="377.3" cy="218.4" rx="0.8" ry="1.15" fill="none" stroke="#1a1a1a" stroke-width="0.8"/>
<ellipse cx="379.1" cy="215.7" rx="0.75" ry="0.95" fill="#222"/>
<line x1="396.0" y1="217.1" x2="396.0" y2="219.7" stroke="#1a1a1a" stroke-width="0.9"/>
<ellipse cx="397.8" cy="218.4" rx="0.8" ry="1.15" fill="none" stroke="#1a1a1a" stroke-width="0.8"/>
<ellipse cx="399.6" cy="215.7" rx="0.75" ry="0.95" fill="#222"/>
<line x1="416.5" y1="217.1" x2="416.5" y2="219.7" stroke="#1a1a1a" stroke-width="0.9"/>
<ellipse cx="418.3" cy="218.4" rx="0.8" ry="1.15" fill="none" stroke="#1a1a1a" stroke-width="0.8"/>
<ellipse cx="420.1" cy="215.7" rx="0.75" ry="0.95" fill="#222"/>
<line x1="434.5" y1="217.1" x2="434.5" y2="219.7" stroke="#1a1a1a" stroke-width="0.9"/>
<ellipse cx="436.3" cy="218.4" rx="0.8" ry="1.15" fill="none" stroke="#1a1a1a" stroke-width="0.8"/>
<ellipse cx="438.1" cy="215.7" rx="0.75" ry="0.95" fill="#222"/>
<rect x="487.15" y="64.60" width="19.70" height="44.00" fill="#fff" stroke="#000" stroke-width="1.3"/>
<rect x="511.00" y="55.40" width="21.00" height="53.20" fill="#000"/>
<line x1="497.3" y1="64.6" x2="497.3" y2="44.8" stroke="#000" stroke-width="1.3"/>
<line x1="491.6" y1="44.8" x2="502.8" y2="44.8" stroke="#000" stroke-width="1.3"/>
<line x1="521.3" y1="55.4" x2="521.3" y2="26.3" stroke="#000" stroke-width="1.3"/>
<line x1="516.0" y1="26.3" x2="526.7" y2="26.3" stroke="#000" stroke-width="1.3"/>
<line x1="485.0" y1="21.0" x2="485.0" y2="108.6" stroke="#555" stroke-width="1.2"/>
<line x1="482.8" y1="21.00" x2="485.0" y2="21.00" stroke="#333" stroke-width="1"/>
<line x1="482.8" y1="64.80" x2="485.0" y2="64.80" stroke="#333" stroke-width="1"/>
<line x1="482.8" y1="108.60" x2="485.0" y2="108.60" stroke="#333" stroke-width="1"/>
<line x1="483.0" y1="108.6" x2="533.5" y2="108.6" stroke="#333" stroke-width="1.1"/>
<line x1="508.5" y1="108.6" x2="508.5" y2="110.8" stroke="#333" stroke-width="1"/>
<text x="481.8" y="22.9" font-size="5.5" font-weight="bold" text-anchor="end" fill="#111" stroke="#111" stroke-width="0.2">2</text>
<text x="481.8" y="66.7" font-size="5.5" font-weight="bold" text-anchor="end" fill="#111" stroke="#111" stroke-width="0.2">1</text>
<text x="481.8" y="110.5" font-size="5.5" font-weight="bold" text-anchor="end" fill="#111" stroke="#111" stroke-width="0.2">0</text>
<text transform="translate(474.9,64.4) rotate(-90)" font-size="6.9" text-anchor="middle" fill="#111" stroke="#111" stroke-width="0.15">Fold Change</text>
<text transform="translate(511.4,13.6) scale(1.0,1)" font-size="10.6" font-weight="normal" text-anchor="middle" fill="#111" stroke="#111" stroke-width="0.15">CD73</text>
<rect x="563.25" y="65.60" width="19.30" height="43.60" fill="#fff" stroke="#000" stroke-width="1.3"/>
<rect x="586.60" y="72.40" width="20.70" height="36.80" fill="#000"/>
<line x1="572.9" y1="65.6" x2="572.9" y2="48.6" stroke="#000" stroke-width="1.3"/>
<line x1="567.3" y1="48.6" x2="578.4" y2="48.6" stroke="#000" stroke-width="1.3"/>
<line x1="596.9" y1="72.4" x2="596.9" y2="34.4" stroke="#000" stroke-width="1.3"/>
<line x1="591.2" y1="34.4" x2="602.6" y2="34.4" stroke="#000" stroke-width="1.3"/>
<line x1="560.5" y1="21.6" x2="560.5" y2="109.2" stroke="#555" stroke-width="1.2"/>
<line x1="558.3" y1="21.60" x2="560.5" y2="21.60" stroke="#333" stroke-width="1"/>
<line x1="558.3" y1="65.40" x2="560.5" y2="65.40" stroke="#333" stroke-width="1"/>
<line x1="558.3" y1="109.20" x2="560.5" y2="109.20" stroke="#333" stroke-width="1"/>
<line x1="558.2" y1="109.2" x2="609.2" y2="109.2" stroke="#333" stroke-width="1.1"/>
<line x1="584.6" y1="109.2" x2="584.6" y2="111.4" stroke="#333" stroke-width="1"/>
<text x="557.3" y="23.5" font-size="5.5" font-weight="bold" text-anchor="end" fill="#111" stroke="#111" stroke-width="0.2">2</text>
<text x="557.3" y="67.3" font-size="5.5" font-weight="bold" text-anchor="end" fill="#111" stroke="#111" stroke-width="0.2">1</text>
<text x="557.3" y="111.1" font-size="5.5" font-weight="bold" text-anchor="end" fill="#111" stroke="#111" stroke-width="0.2">0</text>
<text transform="translate(549.3,64.4) rotate(-90)" font-size="6.9" text-anchor="middle" fill="#111" stroke="#111" stroke-width="0.15">Fold Change</text>
<text transform="translate(588.0,13.8) scale(1.0,1)" font-size="10.6" font-weight="normal" text-anchor="middle" fill="#111" stroke="#111" stroke-width="0.15">CD90</text>
<rect x="638.05" y="66.00" width="18.90" height="43.20" fill="#fff" stroke="#000" stroke-width="1.3"/>
<rect x="661.40" y="78.00" width="20.20" height="31.20" fill="#000"/>
<line x1="647.2" y1="66.0" x2="647.2" y2="48.6" stroke="#000" stroke-width="1.3"/>
<line x1="642.0" y1="48.6" x2="652.8" y2="48.6" stroke="#000" stroke-width="1.3"/>
<line x1="670.8" y1="78.0" x2="670.8" y2="39.0" stroke="#000" stroke-width="1.3"/>
<line x1="666.0" y1="39.0" x2="676.8" y2="39.0" stroke="#000" stroke-width="1.3"/>
<line x1="635.3" y1="22.2" x2="635.3" y2="109.2" stroke="#555" stroke-width="1.2"/>
<line x1="633.1" y1="22.20" x2="635.3" y2="22.20" stroke="#333" stroke-width="1"/>
<line x1="633.1" y1="65.70" x2="635.3" y2="65.70" stroke="#333" stroke-width="1"/>
<line x1="633.1" y1="109.20" x2="635.3" y2="109.20" stroke="#333" stroke-width="1"/>
<line x1="632.4" y1="109.2" x2="684.0" y2="109.2" stroke="#333" stroke-width="1.1"/>
<line x1="659.4" y1="109.2" x2="659.4" y2="111.4" stroke="#333" stroke-width="1"/>
<text x="632.1" y="24.1" font-size="5.5" font-weight="bold" text-anchor="end" fill="#111" stroke="#111" stroke-width="0.2">2</text>
<text x="632.1" y="67.6" font-size="5.5" font-weight="bold" text-anchor="end" fill="#111" stroke="#111" stroke-width="0.2">1</text>
<text x="632.1" y="111.1" font-size="5.5" font-weight="bold" text-anchor="end" fill="#111" stroke="#111" stroke-width="0.2">0</text>
<text transform="translate(623.9,64.4) rotate(-90)" font-size="6.9" text-anchor="middle" fill="#111" stroke="#111" stroke-width="0.15">Fold Change</text>
<text transform="translate(656.0,13.6) scale(1.0,1)" font-size="10.6" font-weight="normal" text-anchor="middle" fill="#111" stroke="#111" stroke-width="0.15">CD105</text>
<rect x="487.25" y="185.60" width="19.60" height="43.80" fill="#fff" stroke="#000" stroke-width="1.3"/>
<rect x="510.80" y="179.00" width="21.20" height="50.40" fill="#000"/>
<line x1="497.3" y1="185.6" x2="497.3" y2="150.0" stroke="#000" stroke-width="1.3"/>
<line x1="491.4" y1="150.0" x2="502.7" y2="150.0" stroke="#000" stroke-width="1.3"/>
<line x1="521.4" y1="179.0" x2="521.4" y2="164.2" stroke="#000" stroke-width="1.3"/>
<line x1="516.2" y1="164.2" x2="526.7" y2="164.2" stroke="#000" stroke-width="1.3"/>
<line x1="485.0" y1="142.2" x2="485.0" y2="229.4" stroke="#555" stroke-width="1.2"/>
<line x1="482.8" y1="142.20" x2="485.0" y2="142.20" stroke="#333" stroke-width="1"/>
<line x1="482.8" y1="185.80" x2="485.0" y2="185.80" stroke="#333" stroke-width="1"/>
<line x1="482.8" y1="229.40" x2="485.0" y2="229.40" stroke="#333" stroke-width="1"/>
<line x1="482.0" y1="229.4" x2="533.6" y2="229.4" stroke="#333" stroke-width="1.1"/>
<line x1="508.4" y1="229.4" x2="508.4" y2="231.6" stroke="#333" stroke-width="1"/>
<text x="481.8" y="144.1" font-size="5.5" font-weight="bold" text-anchor="end" fill="#111" stroke="#111" stroke-width="0.2">2</text>
<text x="481.8" y="187.7" font-size="5.5" font-weight="bold" text-anchor="end" fill="#111" stroke="#111" stroke-width="0.2">1</text>
<text x="481.8" y="231.3" font-size="5.5" font-weight="bold" text-anchor="end" fill="#111" stroke="#111" stroke-width="0.2">0</text>
<text transform="translate(474.9,184.4) rotate(-90)" font-size="6.9" text-anchor="middle" fill="#111" stroke="#111" stroke-width="0.15">Fold Change</text>
<text transform="translate(507.7,131.9) scale(0.915,1)" font-size="10.6" font-weight="bold" text-anchor="middle" fill="#111" stroke="#111" stroke-width="0">ALP</text>
<rect x="562.85" y="185.60" width="19.30" height="43.80" fill="#fff" stroke="#000" stroke-width="1.3"/>
<rect x="586.60" y="185.00" width="20.60" height="44.40" fill="#000"/>
<line x1="572.8" y1="185.6" x2="572.8" y2="169.6" stroke="#000" stroke-width="1.3"/>
<line x1="567.2" y1="169.6" x2="578.0" y2="169.6" stroke="#000" stroke-width="1.3"/>
<line x1="596.9" y1="185.0" x2="596.9" y2="179.2" stroke="#000" stroke-width="1.3"/>
<line x1="591.2" y1="179.2" x2="602.0" y2="179.2" stroke="#000" stroke-width="1.3"/>
<line x1="560.3" y1="142.0" x2="560.3" y2="229.4" stroke="#555" stroke-width="1.2"/>
<line x1="558.1" y1="142.00" x2="560.3" y2="142.00" stroke="#333" stroke-width="1"/>
<line x1="558.1" y1="185.70" x2="560.3" y2="185.70" stroke="#333" stroke-width="1"/>
<line x1="558.1" y1="229.40" x2="560.3" y2="229.40" stroke="#333" stroke-width="1"/>
<line x1="558.2" y1="229.4" x2="609.2" y2="229.4" stroke="#333" stroke-width="1.1"/>
<line x1="584.2" y1="229.4" x2="584.2" y2="231.6" stroke="#333" stroke-width="1"/>
<text x="557.1" y="143.9" font-size="5.5" font-weight="bold" text-anchor="end" fill="#111" stroke="#111" stroke-width="0.2">2</text>
<text x="557.1" y="187.6" font-size="5.5" font-weight="bold" text-anchor="end" fill="#111" stroke="#111" stroke-width="0.2">1</text>
<text x="557.1" y="231.3" font-size="5.5" font-weight="bold" text-anchor="end" fill="#111" stroke="#111" stroke-width="0.2">0</text>
<text transform="translate(549.8,184.4) rotate(-90)" font-size="6.9" text-anchor="middle" fill="#111" stroke="#111" stroke-width="0.15">Fold Change</text>
<text transform="translate(582.4,131.9) scale(0.915,1)" font-size="10.6" font-weight="bold" text-anchor="middle" fill="#111" stroke="#111" stroke-width="0">BSP</text>
<rect x="636.45" y="185.40" width="18.70" height="43.80" fill="#fff" stroke="#000" stroke-width="1.3"/>
<rect x="659.90" y="190.80" width="20.50" height="38.40" fill="#000"/>
<line x1="646.0" y1="185.4" x2="646.0" y2="166.5" stroke="#000" stroke-width="1.3"/>
<line x1="640.2" y1="166.5" x2="651.0" y2="166.5" stroke="#000" stroke-width="1.3"/>
<line x1="670.5" y1="190.8" x2="670.5" y2="170.8" stroke="#000" stroke-width="1.3"/>
<line x1="664.8" y1="170.8" x2="675.6" y2="170.8" stroke="#000" stroke-width="1.3"/>
<line x1="634.2" y1="141.6" x2="634.2" y2="229.2" stroke="#555" stroke-width="1.2"/>
<line x1="632.0" y1="141.60" x2="634.2" y2="141.60" stroke="#333" stroke-width="1"/>
<line x1="632.0" y1="185.40" x2="634.2" y2="185.40" stroke="#333" stroke-width="1"/>
<line x1="632.0" y1="229.20" x2="634.2" y2="229.20" stroke="#333" stroke-width="1"/>
<line x1="630.6" y1="229.2" x2="682.8" y2="229.2" stroke="#333" stroke-width="1.1"/>
<line x1="657.3" y1="229.2" x2="657.3" y2="231.4" stroke="#333" stroke-width="1"/>
<text x="631.0" y="143.5" font-size="5.5" font-weight="bold" text-anchor="end" fill="#111" stroke="#111" stroke-width="0.2">2</text>
<text x="631.0" y="187.3" font-size="5.5" font-weight="bold" text-anchor="end" fill="#111" stroke="#111" stroke-width="0.2">1</text>
<text x="631.0" y="231.1" font-size="5.5" font-weight="bold" text-anchor="end" fill="#111" stroke="#111" stroke-width="0.2">0</text>
<text transform="translate(622.4,184.4) rotate(-90)" font-size="6.9" text-anchor="middle" fill="#111" stroke="#111" stroke-width="0.15">Fold Change</text>
<text transform="translate(658.9,131.9) scale(0.915,1)" font-size="10.6" font-weight="bold" text-anchor="middle" fill="#111" stroke="#111" stroke-width="0">COL1-A1</text>
<text transform="translate(72.4,12.5) scale(1.0,1)" font-size="12.4" text-anchor="middle" fill="#111" stroke="#111" stroke-width="0.25">CD73</text>
<text transform="translate(181.7,12.5) scale(1.0,1)" font-size="12.4" text-anchor="middle" fill="#111" stroke="#111" stroke-width="0.25">CD90</text>
<text transform="translate(290.9,12.5) scale(1.0,1)" font-size="12.4" text-anchor="middle" fill="#111" stroke="#111" stroke-width="0.25">CD105</text>
<text transform="translate(390.6,12.5) scale(0.8,1)" font-size="12.4" text-anchor="middle" fill="#111" stroke="#111" stroke-width="0.25">PE</text>
<text transform="translate(11.4,69) rotate(-90)" font-size="12" text-anchor="middle" fill="#111" stroke="#111" stroke-width="0.5">unfused</text>
<text transform="translate(11.4,163.8) rotate(-90)" font-size="12" text-anchor="middle" fill="#111" stroke="#111" stroke-width="0.5">fused</text>
<text transform="translate(1.4,13.6) scale(1.12,1)" font-size="16" font-weight="bold" fill="#000">A</text>
<text transform="translate(457.1,13.6) scale(0.86,1)" font-size="16.6" font-weight="bold" fill="#000">B</text>
<rect x="34.9" y="230.0" width="4.8" height="5.5" fill="#fff" stroke="#111" stroke-width="1"/>
<rect x="34.9" y="241.2" width="4.8" height="5.5" fill="#8a8a8a" stroke="#111" stroke-width="1"/>
<text transform="translate(44.8,235.7) scale(0.91,1)" font-size="8" font-weight="bold" fill="#111">Control</text>
<text transform="translate(44.8,247.0) scale(0.91,1)" font-size="8" font-weight="bold" fill="#111">SMCs</text>
<rect x="522.0" y="240.6" width="12.4" height="6.0" fill="#fff" stroke="#000" stroke-width="1.5"/>
<rect x="587.6" y="241.0" width="13.4" height="6.7" fill="#000"/>
<text x="541.2" y="247.0" font-size="9" fill="#111" stroke="#111" stroke-width="0.2">unfused</text>
<text x="607.4" y="247.2" font-size="9" fill="#111" stroke="#111" stroke-width="0.2">fused</text>
</svg>
</body></html>
